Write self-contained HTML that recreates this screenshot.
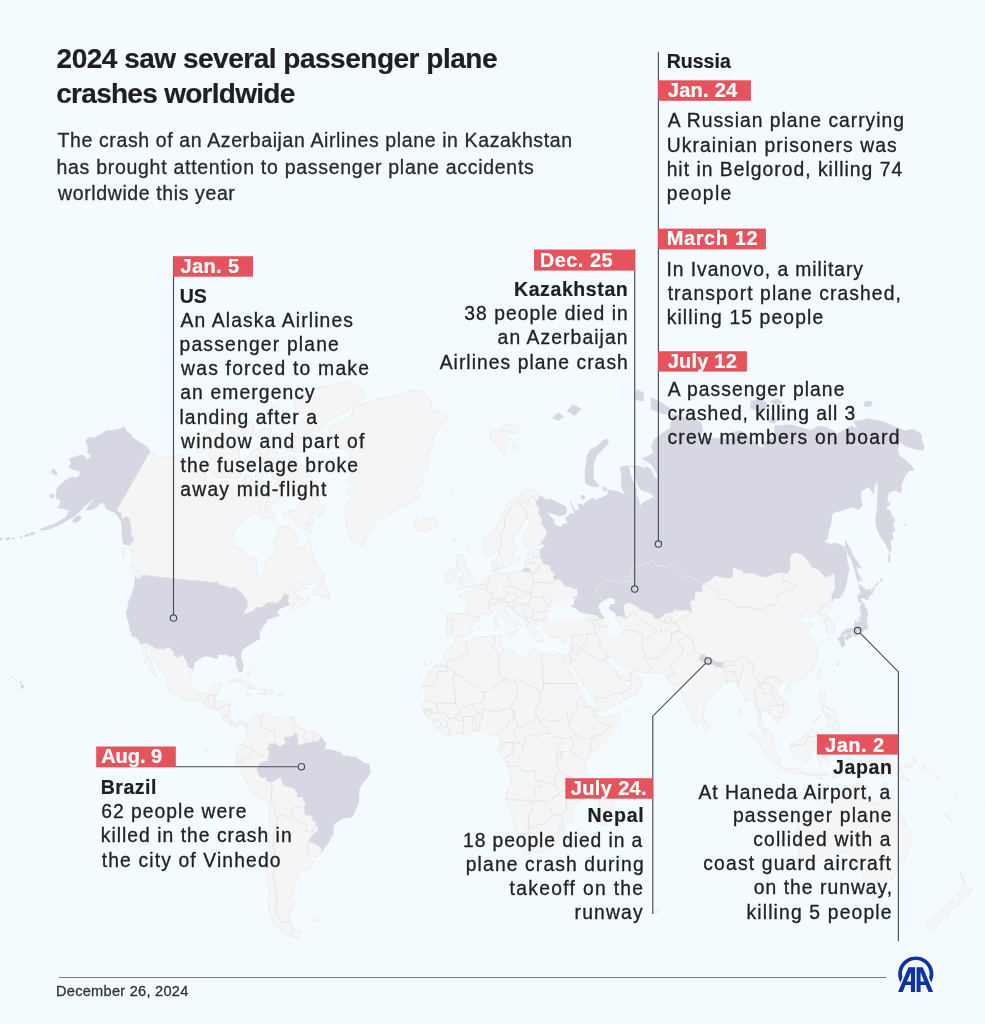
<!DOCTYPE html>
<html lang="en">
<head>
<meta charset="utf-8">
<title>2024 saw several passenger plane crashes worldwide</title>
<style>
html,body{margin:0;padding:0;background:#f4fbfe;}
body{width:985px;height:1024px;overflow:hidden;}
svg{display:block;}
text{font-family:"Liberation Sans",Arial,Helvetica,sans-serif;white-space:pre;}
</style>
</head>
<body>
<svg width="985" height="1024" viewBox="0 0 985 1024">
<rect width="985" height="1024" fill="#f4fbfe"/>
<g id="map">
<g fill="#f5f5f5" stroke="#e4e4e7" stroke-width="0.6" stroke-linejoin="round">
<path d="M150.0,451.1L146.6,446.2L141.5,443.6L136.9,440.3L133.1,438.0L130.5,433.9L126.7,431.5L124.4,426.8L118.6,429.4L112.3,430.4L106.2,430.9L100.7,434.5L93.9,438.0L89.5,437.4L85.5,440.5L86.9,443.7L88.1,448.2L87.5,452.3L90.3,454.1L90.3,458.3L86.6,459.6L84.2,455.9L81.9,455.1L76.8,456.4L69.1,459.0L71.1,462.9L69.2,467.2L71.9,469.2L76.4,470.2L80.7,471.5L79.3,475.7L75.8,478.2L72.9,476.9L68.4,478.7L64.3,481.3L57.8,487.0L56.0,493.8L56.9,499.0L60.9,499.6L59.7,504.5L58.4,508.2L63.1,507.9L66.0,510.0L70.2,510.2L65.9,517.1L61.9,520.0L54.3,524.1L47.4,526.4L39.5,529.8L44.3,530.1L49.3,528.7L56.1,526.3L61.6,523.7L68.5,519.5L74.3,516.3L79.5,511.6L82.5,508.4L87.8,503.7L90.8,501.0L95.6,499.5L90.9,503.1L86.0,509.9L91.2,509.7L96.5,507.6L100.2,503.2L104.5,502.9L105.3,507.0L108.1,509.9L112.9,511.5L116.5,513.9L119.5,518.2L121.6,522.8L122.0,529.4L122.1,535.7L122.8,540.8L123.7,544.2L127.6,544.8L130.1,544.9L130.0,547.3L131.0,550.6L131.8,554.4L132.5,558.6L131.8,563.0L134.1,565.3L137.3,568.2L139.1,571.3L140.5,573.8L141.3,575.3L140.7,579.4L138.9,579.0L135.1,577.4L134.8,583.9L134.1,587.2L133.1,590.5L131.0,596.9L128.5,601.7L127.9,607.4L126.2,611.9L126.8,616.5L128.1,620.6L128.9,623.1L130.0,626.1L129.4,628.6L131.9,633.0L131.7,635.7L135.1,637.0L137.0,637.7L137.4,638.9L140.0,641.4L140.2,643.7L140.9,646.3L141.9,650.0L142.6,652.9L145.6,655.9L145.9,659.4L143.4,660.8L145.0,663.3L148.0,664.7L150.3,666.9L150.0,670.6L151.8,672.7L154.9,675.8L155.8,677.9L157.1,676.2L155.2,673.5L154.3,671.4L152.8,667.3L151.6,663.8L149.7,660.6L149.1,657.4L146.7,654.1L146.0,649.8L146.3,646.5L150.5,648.9L151.0,652.5L152.1,656.8L154.9,660.6L155.7,662.9L158.0,665.0L158.4,668.5L162.0,671.6L165.7,676.7L167.5,678.8L168.5,683.1L167.0,686.3L168.7,689.6L172.7,693.2L177.5,694.8L182.7,697.9L186.6,699.7L192.3,701.7L197.3,700.1L200.2,700.7L204.4,705.2L206.4,707.0L210.7,707.9L215.0,709.5L217.9,710.4L220.3,712.8L222.5,715.9L222.4,718.6L224.3,720.4L225.8,720.4L228.3,723.4L230.6,725.1L232.3,724.6L234.6,726.1L236.3,727.6L238.9,727.0L238.1,724.3L239.9,723.4L242.0,722.6L244.2,724.9L245.0,727.6L246.1,729.7L246.3,734.1L246.6,737.7L243.9,741.2L242.1,744.1L238.6,746.4L238.3,748.5L236.3,751.7L236.0,755.5L238.9,756.1L237.5,758.7L234.9,762.3L235.6,765.8L239.2,769.3L242.9,775.3L245.1,779.2L247.8,784.5L250.2,789.7L251.8,792.2L256.1,795.2L261.2,798.2L265.4,800.7L268.6,803.7L269.7,811.8L269.6,821.3L269.7,827.8L268.7,834.3L268.8,840.9L269.7,847.7L269.8,852.8L268.2,859.8L267.3,865.1L266.8,868.7L268.1,875.2L268.0,879.6L267.6,883.3L268.1,887.8L269.5,890.8L269.0,896.7L267.7,902.7L269.5,910.7L271.9,918.9L275.0,925.1L279.0,928.2L284.0,932.2L287.2,934.6L293.1,936.8L297.9,938.2L299.1,934.3L302.1,932.3L295.0,929.2L291.3,924.7L291.5,923.0L288.7,917.7L289.3,913.9L291.3,910.5L294.5,904.7L293.5,901.2L288.7,897.6L293.5,893.5L293.6,887.8L294.9,885.5L296.8,883.2L293.0,882.2L292.3,877.8L298.0,878.7L299.9,876.5L299.1,870.7L302.5,871.0L307.9,869.7L311.7,867.2L313.3,861.6L311.5,858.5L307.8,855.5L307.5,853.5L309.4,855.0L314.1,856.4L317.5,856.5L320.1,854.9L321.5,852.3L324.7,847.1L327.0,844.8L329.2,840.8L330.6,837.5L333.5,834.6L333.1,830.1L333.2,826.6L334.7,823.7L339.1,820.5L343.5,818.3L347.8,817.4L351.2,817.2L353.9,814.2L355.7,809.0L357.0,806.8L358.5,802.0L358.9,797.4L358.7,792.3L360.0,787.0L364.2,781.0L367.9,777.0L370.2,772.5L370.3,769.5L368.9,764.0L363.3,762.8L359.5,759.6L355.1,756.9L350.8,757.2L346.4,755.8L342.9,756.7L342.0,754.0L337.6,751.7L333.3,750.5L330.4,749.7L326.0,749.4L324.5,747.9L326.0,743.5L323.1,740.0L321.4,736.5L318.8,734.5L314.5,731.8L308.7,731.5L304.3,730.3L301.5,728.3L297.8,724.7L294.9,723.5L294.4,720.9L290.1,718.8L291.9,717.3L288.7,717.3L285.8,717.9L282.8,719.1L279.4,717.6L274.1,717.8L273.3,716.7L269.6,714.8L268.8,712.7L267.9,714.5L265.5,716.3L264.2,718.7L262.5,717.5L263.8,715.4L265.3,713.3L263.7,712.0L262.1,713.6L258.3,715.4L254.5,716.0L252.4,717.8L252.0,720.5L249.8,722.6L248.3,725.3L246.6,723.3L242.6,720.9L239.4,721.2L236.2,722.7L232.7,721.6L230.5,719.2L228.6,716.2L228.7,713.2L229.6,708.6L230.4,704.0L227.1,701.5L223.4,701.1L219.9,701.5L216.1,701.8L214.4,701.1L216.5,696.2L218.4,693.7L219.4,688.9L221.7,685.8L221.4,683.4L217.0,683.5L212.6,684.7L211.3,685.7L210.1,690.1L206.6,692.6L203.1,693.2L198.7,693.9L196.0,692.2L193.6,689.6L191.5,684.7L190.5,679.8L191.6,673.3L193.8,668.5L193.4,665.6L194.4,662.6L198.6,659.6L202.4,657.0L207.4,655.9L211.6,656.9L215.1,658.3L218.0,658.4L217.2,655.7L218.5,654.3L222.0,654.4L226.3,654.2L229.4,656.7L232.7,655.6L234.5,656.8L236.4,659.5L235.9,663.6L237.0,666.6L237.9,669.2L239.6,672.0L241.6,671.9L242.5,670.3L243.2,666.7L242.3,661.0L240.8,656.6L241.0,653.6L242.7,649.2L245.8,647.2L248.4,645.2L252.4,642.9L256.8,640.2L259.9,638.4L259.6,635.0L259.4,632.4L258.5,631.1L259.4,627.5L259.4,624.2L260.4,626.5L259.9,631.5L261.7,629.0L262.9,626.6L262.6,623.6L264.0,625.3L266.4,622.7L267.1,619.8L267.9,618.7L271.5,618.7L273.3,618.0L271.8,617.2L274.9,616.8L277.2,616.5L279.0,615.9L279.2,614.6L276.9,613.5L277.8,611.3L280.3,608.4L284.8,606.4L289.3,604.7L292.2,603.7L295.8,602.3L292.4,605.6L290.9,607.8L292.5,609.7L298.7,606.3L305.9,603.9L309.7,601.0L308.7,597.3L305.5,601.6L302.2,601.8L298.3,600.5L296.7,597.3L296.7,594.2L294.3,592.4L299.2,591.1L299.2,588.3L293.8,588.0L287.9,590.5L282.7,595.8L279.3,596.3L281.6,594.5L285.9,590.8L291.3,587.0L295.2,583.6L302.8,583.9L309.4,584.5L315.0,583.2L319.6,580.1L324.8,578.4L325.0,575.5L322.7,571.1L319.2,568.4L316.1,564.3L313.8,560.1L313.3,553.3L311.1,546.1L309.9,539.3L306.7,542.9L303.0,547.3L297.9,548.7L295.7,545.2L296.3,539.9L295.9,534.9L293.2,531.1L289.1,527.5L284.1,526.9L278.8,525.8L277.9,530.4L276.4,537.8L273.2,543.4L275.9,547.5L274.6,553.1L271.3,557.4L264.6,561.4L265.3,565.1L264.4,571.6L262.0,575.8L258.0,576.3L256.7,571.9L256.2,566.5L257.5,558.9L250.1,556.7L244.8,551.9L239.3,547.9L234.1,547.3L235.2,539.9L231.2,538.3L234.4,530.9L239.5,524.2L245.4,519.0L253.7,514.1L259.4,512.7L260.8,508.9L265.7,506.1L266.2,501.5L268.6,501.9L274.4,503.4L280.8,497.8L280.4,494.1L283.4,489.6L284.2,484.6L280.1,482.6L275.9,483.8L271.1,492.5L267.1,496.2L264.7,492.6L261.8,487.6L263.1,482.0L260.2,480.1L263.9,474.7L264.7,467.8L261.5,464.1L255.2,472.1L255.6,479.1L249.8,484.6L247.0,492.5L247.1,486.7L244.7,483.6L240.1,488.0L234.0,487.4L229.0,484.3L227.0,480.5L221.1,481.9L219.8,485.7L216.1,489.6L216.7,485.7L214.6,481.9L209.3,482.0L202.6,479.8L206.3,477.8L205.2,472.6L199.8,470.5L195.5,466.4L190.2,464.2L188.7,459.9L184.1,463.3L183.9,457.0L181.8,453.9L176.8,455.7L170.8,456.7L165.6,456.4L160.9,457.4L156.2,458.4L154.1,453.3L150.0,451.1Z M72.6,520.4L73.9,523.1L79.4,520.5L81.3,517.2L79.8,515.6L75.3,517.2Z M51.1,471.3L53.7,474.5L57.1,474.7L56.3,471.3L52.8,469.0Z M49.3,494.9L51.5,498.3L53.9,496.1L52.5,494.0Z M138.7,577.8L135.4,576.5L133.0,573.4L130.1,568.7L128.8,565.1L131.9,565.0L136.2,569.0L138.4,573.6L138.9,576.2Z M123.6,558.4L122.2,551.5L122.3,546.9L125.7,548.3L123.7,552.7Z M312.1,595.0L315.1,591.6L313.0,591.5L317.0,587.3L320.6,581.8L324.8,579.6L323.1,583.2L320.3,586.7L323.9,586.1L327.6,588.2L328.4,591.8L329.1,595.8L329.8,596.2L328.3,599.4L325.9,598.5L325.8,596.0L321.9,598.1L321.3,595.4L317.0,595.2Z M299.8,585.3L303.4,587.8L306.7,588.7L304.9,586.6Z M297.7,597.7L299.8,599.8L304.0,599.2L301.3,598.9L299.0,596.6Z M227.5,682.5L230.4,679.8L234.9,678.4L239.2,678.7L243.3,680.6L248.8,683.0L253.0,685.2L257.9,688.0L256.1,688.9L247.7,689.1L249.4,686.8L245.7,685.5L243.1,683.2L238.8,681.9L236.0,681.0L232.5,682.1L230.1,682.7Z M256.8,693.9L259.9,693.1L261.7,691.9L260.1,689.4L262.8,689.1L267.1,689.3L270.2,690.1L274.3,693.1L271.1,693.8L268.2,694.3L265.4,696.1L263.8,694.5L259.5,694.5Z M245.5,693.9L248.0,693.3L251.4,694.6L249.6,695.4L247.0,695.2Z M277.7,693.7L282.2,694.1L281.4,695.1L277.6,695.3Z M291.8,719.1L294.4,719.1L294.7,717.0L292.5,717.3Z M247.3,674.9L249.0,675.6L249.0,672.4L247.6,672.3Z M249.6,667.1L251.7,668.5L251.6,667.5L249.4,666.5Z M310.1,919.6L313.7,917.3L319.0,918.3L316.3,921.3L312.3,921.2Z M20.8,685.9L21.6,684.1L23.6,685.6L24.2,686.8L21.7,688.7Z M19.5,681.8L21.4,682.2L20.5,682.9Z M15.3,679.3L16.8,679.9L15.6,680.2Z M11.2,677.2L12.4,677.1L11.9,678.0Z M204.8,750.2L206.3,749.7L206.9,751.4L205.4,751.7Z M259.3,516.6L262.2,519.2L268.2,516.8L273.8,519.2L276.7,516.9L274.4,513.8L271.7,510.5L269.7,505.6L265.7,506.1L264.7,512.3L260.4,513.4Z M311.2,533.5L307.1,531.6L304.0,529.2L297.3,525.9L293.0,519.0L290.2,515.9L283.8,516.2L283.4,512.2L294.4,510.9L297.4,505.6L301.6,500.4L299.0,494.0L294.3,490.1L291.5,484.6L286.1,483.0L279.5,481.1L272.4,477.7L271.0,472.6L273.3,466.0L279.2,457.7L288.4,455.9L296.6,458.4L296.0,464.9L301.8,465.3L305.8,466.8L307.6,474.1L312.2,477.6L313.8,483.1L316.9,485.5L318.1,491.3L312.9,496.0L317.0,498.4L321.3,504.2L326.5,508.8L323.5,513.4L318.7,517.2L315.8,514.2L310.2,512.4L313.5,519.8L313.4,524.6L308.8,525.6L306.3,522.7L309.3,528.3Z M205.7,464.6L207.7,470.3L210.8,471.8L218.0,477.8L227.4,477.1L235.4,478.9L241.3,474.7L240.5,468.8L237.4,465.1L239.9,455.8L239.1,448.4L232.5,449.0L225.2,444.4L216.4,444.4L210.3,450.1L208.1,455.9L212.5,459.5Z M195.9,446.2L197.0,452.7L201.2,452.3L209.0,448.0L222.3,441.0L222.6,434.5L215.6,430.0L208.3,429.4L205.4,435.7L197.2,441.0Z M228.4,427.7L233.2,435.6L245.4,435.8L251.0,436.5L254.2,429.4L251.2,421.0L243.2,422.2L236.3,417.9L230.0,423.5Z M243.9,462.2L250.6,463.8L257.4,462.4L262.0,453.6L259.0,448.0L253.1,449.7L248.3,456.4Z M260.8,463.2L265.2,464.2L273.2,460.1L278.1,452.8L272.4,449.8L266.3,452.3Z M242.4,480.4L247.0,484.1L251.9,481.7L251.9,476.3L247.0,475.9Z M277.8,446.3L283.4,449.3L293.9,451.7L302.6,452.8L305.9,445.6L298.3,438.0L289.6,435.0L282.9,436.7Z M255.4,435.2L262.4,439.8L269.6,437.5L271.5,428.2L262.1,428.2Z M289.6,435.0L298.6,437.3L308.4,440.4L314.9,436.0L321.4,426.9L328.5,421.2L337.4,415.6L348.0,410.1L358.0,403.0L366.2,394.9L359.5,386.1L347.4,381.4L331.8,385.4L321.0,386.9L312.8,390.2L314.3,401.0L310.3,411.5L300.8,420.6L292.4,427.7Z M294.3,402.3L295.5,409.1L301.4,413.9L309.1,408.0L309.4,400.6L308.1,391.0L300.7,394.3Z M265.3,415.7L275.4,418.0L280.2,410.4L274.5,405.4L267.7,410.4Z M220.7,417.3L229.1,421.3L238.4,416.6L237.4,408.0L225.2,412.9Z M361.3,545.9L357.7,543.6L351.9,540.9L349.2,535.4L347.9,529.8L346.0,523.6L345.8,517.3L345.0,509.6L346.9,503.1L354.1,498.1L346.8,494.4L348.5,488.5L354.2,488.5L348.3,480.9L350.7,472.7L349.6,462.1L350.1,454.1L344.2,449.2L334.8,448.3L329.2,443.2L330.5,435.1L329.5,427.9L341.4,422.3L351.7,415.0L352.8,408.1L364.4,403.4L377.4,398.5L393.8,397.1L409.3,390.4L422.2,390.9L431.6,401.9L432.0,410.2L443.8,412.9L448.6,418.0L438.7,428.4L434.0,436.7L431.7,448.5L426.9,455.8L430.1,463.1L427.3,469.8L421.3,476.1L422.5,484.3L416.5,488.3L421.3,495.1L413.9,499.9L407.4,505.7L399.1,506.9L392.4,512.4L385.6,517.8L376.9,519.3L373.2,526.7L368.4,532.8L366.0,539.4L363.4,544.4Z M416.1,529.7L413.5,524.6L418.3,523.8L413.1,520.8L416.6,516.8L420.2,521.6L423.5,518.9L428.3,518.6L432.7,516.9L436.3,519.5L438.3,524.6L434.8,528.0L429.8,530.4L424.8,532.2L421.3,531.1Z M35.1,533.2L34.8,532.3L33.0,532.2L30.8,532.9L29.5,534.1L29.9,534.9L31.7,535.0L33.9,534.3Z M29.5,534.9L29.1,534.2L27.5,534.1L25.6,534.7L24.5,535.7L24.8,536.5L26.4,536.6L28.3,535.9Z M22.1,536.8L22.0,536.4L21.3,536.4L20.4,536.7L20.0,537.1L20.1,537.5L20.8,537.5L21.6,537.2Z M14.6,538.3L14.5,538.0L13.7,537.9L12.7,538.2L12.2,538.8L12.3,539.1L13.1,539.2L14.1,538.8Z M10.3,538.3L10.0,537.5L8.4,537.5L6.4,538.1L5.3,539.1L5.7,539.9L7.3,540.0L9.2,539.3Z M2.8,538.9L2.5,538.4L1.3,538.3L-0.1,538.8L-1.0,539.6L-0.7,540.1L0.5,540.2L1.9,539.7Z M-1.3,538.6L-1.5,538.2L-2.4,538.2L-3.5,538.5L-4.1,539.1L-3.9,539.5L-3.0,539.6L-1.9,539.2Z M-5.8,540.0L-6.0,539.6L-6.8,539.6L-7.8,539.9L-8.3,540.4L-8.1,540.8L-7.3,540.8L-6.4,540.5Z M-10.2,538.7L-10.4,538.3L-11.4,538.2L-12.6,538.6L-13.4,539.3L-13.1,539.7L-12.1,539.8L-10.9,539.4Z M-13.4,535.4L-13.6,535.0L-14.4,535.0L-15.4,535.3L-15.9,535.9L-15.8,536.2L-15.0,536.3L-14.0,536.0Z M-22.3,527.4L-22.5,526.9L-23.5,526.9L-24.7,527.3L-25.5,528.0L-25.3,528.5L-24.3,528.5L-23.1,528.1Z M540.0,496.9L536.8,495.4L539.9,493.4L534.9,490.8L531.4,489.8L527.6,489.8L523.8,491.5L519.8,495.3L516.7,497.7L513.4,499.0L510.3,502.0L506.0,504.4L508.5,506.5L505.2,509.3L503.9,513.1L501.2,517.9L500.3,522.0L497.5,525.6L494.8,529.6L492.5,532.1L489.0,534.5L485.5,536.9L483.1,539.8L483.2,543.9L483.5,546.6L484.2,551.5L485.0,553.3L487.4,556.8L489.9,557.2L492.4,555.8L495.3,552.7L497.4,550.5L497.6,548.7L498.5,552.2L499.2,555.3L500.8,558.3L502.9,563.4L503.5,565.5L504.4,568.0L507.5,567.9L507.9,565.4L511.4,564.7L512.8,562.3L513.2,557.6L513.7,553.7L516.2,550.9L518.0,547.7L513.7,544.7L513.1,540.1L513.5,536.8L515.7,533.9L519.7,529.8L521.7,525.3L521.8,522.3L523.3,520.7L527.7,519.5L531.3,523.4L529.6,527.0L526.2,529.6L523.0,533.1L523.0,538.4L523.9,542.5L523.7,544.8L526.0,545.7L528.2,548.1L533.1,546.5L537.9,545.0L539.8,544.4L542.0,543.6L546.2,546.9L543.2,547.3L540.9,549.2L535.9,549.1L532.7,549.7L529.8,550.9L530.1,553.6L532.7,554.6L532.5,557.9L532.3,560.3L529.5,560.2L528.2,558.0L525.7,558.6L524.6,562.9L525.1,566.2L523.9,569.4L522.4,570.7L521.2,571.9L519.4,571.8L518.5,570.4L514.9,570.8L512.5,572.5L508.1,574.0L505.9,571.6L502.4,573.1L499.6,573.8L496.9,572.0L496.6,570.4L495.7,567.7L497.3,564.7L498.8,563.7L497.2,561.4L497.7,558.4L495.1,560.5L491.8,561.4L491.7,565.6L491.8,567.5L493.2,569.8L493.6,573.0L494.1,574.3L493.2,575.7L489.3,575.5L486.7,576.1L484.1,577.2L483.3,578.4L482.4,581.5L480.3,584.3L477.7,585.7L475.4,586.3L475.4,589.0L471.7,591.6L468.0,592.2L467.7,590.9L466.1,590.9L466.9,594.9L463.2,594.3L458.7,595.4L459.5,597.7L463.2,599.0L465.3,600.1L468.0,603.9L468.3,606.5L467.8,610.1L466.9,613.8L461.0,613.8L455.5,613.3L449.6,612.7L446.2,614.8L447.3,618.9L447.5,622.0L446.6,626.5L445.1,630.1L447.0,631.3L446.7,636.0L449.4,636.0L452.0,635.3L453.9,637.3L455.8,639.3L456.6,638.8L459.2,637.0L465.3,636.9L469.4,634.0L471.9,630.1L470.5,627.6L473.3,623.1L477.4,621.0L480.1,618.9L479.8,617.2L479.5,614.7L482.2,613.6L485.7,614.3L489.3,614.7L491.4,612.7L495.4,610.3L498.7,612.1L499.9,615.6L503.6,618.4L505.9,620.7L510.1,622.9L512.6,625.0L514.4,625.6L515.8,629.0L514.7,632.5L516.0,632.6L518.6,629.4L516.8,626.6L517.8,623.9L520.9,625.9L522.3,625.2L520.8,623.3L515.1,619.0L512.6,619.0L510.1,617.0L508.0,613.1L504.9,611.0L504.5,607.4L508.3,605.7L507.8,608.1L508.9,608.8L510.2,606.9L512.5,611.2L515.9,613.4L519.0,615.4L521.8,617.2L524.4,618.9L524.7,621.0L524.4,623.8L526.5,626.5L528.6,629.2L529.8,631.3L530.5,633.3L531.7,636.3L533.8,637.5L536.0,637.4L534.7,633.9L535.1,632.6L538.0,633.4L537.9,631.5L535.0,629.5L534.6,627.8L533.6,625.4L534.3,623.3L535.8,624.7L537.5,625.3L538.5,624.8L537.3,622.9L538.3,622.0L542.5,622.3L542.8,623.2L543.5,625.1L543.5,625.4L543.4,627.0L545.7,628.7L544.2,631.1L546.8,633.1L547.3,635.4L549.9,636.4L552.4,636.7L553.9,638.2L556.6,636.7L559.1,636.5L562.0,638.3L566.1,637.5L567.7,635.8L570.5,636.4L572.2,636.4L571.6,638.8L571.5,641.1L571.9,643.5L571.0,645.5L570.1,648.1L569.7,649.1L569.3,651.6L568.7,653.4L567.9,654.0L566.3,654.7L562.6,654.3L558.9,653.3L556.1,654.2L553.3,655.7L548.2,654.1L542.5,653.5L539.0,652.1L536.4,650.2L533.3,649.2L528.0,651.9L527.9,655.4L526.6,657.3L523.7,657.5L519.4,655.5L514.8,652.9L514.2,651.0L508.5,649.4L504.0,648.8L502.0,647.2L499.7,645.9L501.3,643.6L502.1,640.9L500.9,638.3L502.1,635.7L500.0,636.4L498.6,634.9L495.3,636.1L493.1,636.3L489.4,635.8L485.6,636.8L480.0,636.7L474.2,637.9L469.7,640.3L465.8,642.3L463.2,641.7L460.5,642.0L456.6,639.7L455.0,640.0L453.8,643.3L452.2,645.9L450.1,647.2L447.3,648.5L445.3,650.8L443.8,654.0L444.4,657.5L442.6,661.0L438.9,664.2L434.9,665.3L433.1,668.2L430.2,670.7L426.1,678.1L422.6,686.7L424.1,691.3L425.4,695.5L423.9,701.8L421.0,705.5L422.9,708.3L422.9,710.7L423.2,712.8L425.8,714.2L428.1,717.2L431.8,721.0L433.2,724.0L435.3,727.2L438.5,728.9L440.2,730.4L445.4,734.2L449.8,736.1L454.2,734.5L460.0,733.5L465.8,734.9L471.6,732.5L475.1,731.0L478.6,730.3L481.5,730.1L484.7,730.7L486.2,732.7L489.1,736.2L492.0,736.0L495.8,735.7L497.5,735.7L499.9,737.1L500.2,740.0L499.6,743.0L499.3,745.9L498.7,747.6L497.2,750.8L499.3,754.6L502.2,758.4L506.0,762.8L507.1,765.7L507.4,766.6L509.4,770.7L510.0,774.5L511.7,780.1L510.4,785.1L507.8,788.3L506.6,793.4L505.6,799.5L507.6,804.2L510.0,810.2L513.1,816.7L513.0,821.6L514.5,828.1L518.3,834.4L520.4,839.9L523.0,845.0L522.0,847.9L523.0,851.5L523.2,853.0L527.3,854.5L533.3,852.3L538.7,852.3L543.2,851.9L549.8,848.8L554.6,844.3L559.2,838.7L563.1,835.1L565.1,829.4L564.5,826.4L567.2,824.1L572.5,821.3L573.4,814.5L572.1,810.8L571.7,807.6L575.3,804.7L578.3,801.4L584.2,798.1L588.7,793.6L589.3,787.0L589.2,779.6L587.3,775.1L586.5,771.6L585.9,768.7L584.5,766.3L585.4,763.4L587.2,760.6L588.7,757.2L591.0,754.3L592.8,753.6L595.7,749.7L599.8,745.9L603.7,742.8L608.5,738.0L612.8,732.7L615.0,728.3L617.0,724.5L619.2,720.9L620.1,718.2L620.4,714.1L618.1,713.8L613.8,715.6L609.5,716.2L605.1,717.1L602.3,718.3L599.3,718.0L597.2,715.3L597.2,713.5L596.5,711.4L594.4,709.7L591.7,706.7L588.8,704.6L585.8,702.8L584.2,699.2L582.6,695.6L579.3,692.5L578.6,690.7L578.2,686.4L577.4,683.4L573.7,678.7L570.3,673.5L568.3,669.1L567.0,665.3L564.8,661.8L563.6,658.5L564.1,659.9L565.7,662.8L568.7,665.4L569.7,663.0L570.5,659.7L570.2,662.7L571.5,664.6L575.6,670.9L578.1,675.0L580.5,677.0L584.0,684.9L587.5,690.0L591.3,695.5L594.7,700.3L595.7,704.9L597.1,709.6L597.7,711.4L602.0,711.1L606.3,709.3L610.6,707.5L613.7,706.0L617.7,704.5L622.5,702.6L622.5,700.8L626.4,699.1L627.8,698.4L631.2,697.1L634.3,695.4L637.9,692.2L637.9,688.5L640.4,687.5L643.1,681.2L639.4,677.6L634.6,675.6L632.5,672.5L632.4,669.1L631.3,670.4L629.5,672.5L627.1,675.3L622.0,676.1L619.2,676.5L617.9,674.9L616.7,674.4L618.9,672.7L617.7,670.0L616.6,672.1L614.8,671.8L614.6,669.5L612.7,667.3L609.6,664.2L608.9,662.4L607.5,659.8L607.1,657.9L609.1,657.8L610.1,656.4L613.3,657.3L615.8,661.0L617.9,664.5L621.2,665.9L625.4,668.4L629.7,667.7L631.8,666.6L634.0,668.0L635.1,671.0L640.1,672.1L644.7,672.3L647.6,672.8L649.6,672.7L655.9,672.5L661.6,671.8L662.3,673.5L664.9,676.5L667.0,677.1L669.4,681.6L672.9,685.9L675.8,686.5L678.9,684.9L679.8,681.7L680.4,685.2L681.5,691.8L683.4,698.0L685.1,702.9L688.5,710.5L691.6,715.5L693.1,719.4L695.3,723.7L697.1,725.0L698.9,722.8L701.5,721.3L703.7,718.3L703.2,713.5L704.4,709.8L703.5,704.0L705.6,701.5L709.5,699.0L712.2,695.6L716.7,690.5L720.7,687.6L721.8,683.7L724.9,682.7L727.5,682.4L731.6,680.7L735.4,680.6L737.3,685.8L739.6,688.3L743.9,694.3L744.4,700.6L747.4,701.2L749.8,699.0L752.6,697.7L754.5,703.7L756.3,708.3L757.8,712.9L758.1,719.1L757.5,725.1L761.1,728.4L763.6,732.9L765.1,737.6L766.9,740.3L769.6,742.6L773.1,745.0L775.1,744.8L774.8,741.5L773.0,738.5L772.6,735.6L771.7,732.9L769.0,730.5L765.5,728.4L764.3,727.5L762.4,723.6L762.1,720.6L760.1,717.5L761.3,712.9L761.6,708.9L763.0,708.3L764.6,710.8L768.5,712.3L770.3,714.1L772.3,717.2L775.2,717.8L776.3,723.3L778.3,722.0L781.6,718.1L782.8,717.7L785.3,716.8L788.6,713.1L788.7,710.0L788.0,705.0L786.7,702.5L784.7,699.9L781.3,697.1L779.3,694.6L776.9,690.7L777.2,687.8L779.3,685.1L782.4,682.4L784.1,682.1L785.6,682.4L787.5,684.0L788.1,686.3L789.6,686.4L790.2,684.3L789.8,683.0L793.4,681.9L796.7,680.5L798.4,679.8L800.1,679.4L803.6,677.8L806.9,675.9L810.4,671.9L813.3,668.1L813.9,666.0L815.3,662.1L816.6,659.2L818.0,655.5L818.3,652.2L815.3,650.1L817.7,648.5L817.3,646.3L814.0,642.7L810.9,637.2L807.4,634.3L807.8,631.9L809.2,629.3L812.0,626.2L814.6,625.2L814.6,623.6L811.0,623.3L807.1,623.7L804.5,624.7L803.6,621.9L799.8,619.4L799.2,617.8L802.4,617.2L803.7,614.2L806.8,610.3L809.2,609.6L810.4,611.2L808.9,616.7L810.3,617.8L813.0,614.8L817.0,613.2L819.3,614.7L821.1,618.3L820.1,620.4L822.5,621.9L825.5,622.5L826.1,626.5L827.3,630.4L827.4,633.6L830.9,633.8L834.8,631.6L835.1,628.0L834.2,624.0L830.8,619.3L826.6,615.0L826.3,613.0L828.4,610.7L831.1,607.9L830.3,604.1L832.1,601.7L834.6,598.0L838.1,599.0L842.4,594.1L844.9,588.3L846.9,580.9L847.6,574.5L849.2,569.3L847.0,560.9L846.2,552.0L843.9,546.9L839.2,544.4L834.3,543.0L830.8,544.7L824.5,541.8L827.7,538.5L828.4,530.9L831.1,522.7L831.8,515.1L833.9,512.5L840.4,510.8L847.8,508.5L852.7,507.0L858.7,509.3L862.3,505.2L860.8,498.7L860.9,490.9L865.9,488.2L868.8,486.7L873.5,494.1L874.1,487.5L877.4,479.8L878.2,487.1L878.0,494.4L877.2,503.7L877.1,511.7L875.3,518.0L876.2,524.7L877.7,530.5L881.9,538.7L885.6,543.9L890.1,552.4L891.0,548.7L890.5,540.7L893.8,538.3L891.6,533.9L895.1,529.6L892.5,524.5L895.0,520.2L891.6,515.1L889.8,510.2L886.8,509.5L886.8,502.7L887.6,496.2L889.1,492.2L894.3,490.1L901.0,492.7L901.2,484.5L904.2,477.5L908.7,470.5L913.7,470.6L911.4,465.6L904.4,459.4L898.7,455.2L897.7,449.4L899.4,441.5L905.3,445.8L913.1,448.5L922.7,450.5L924.0,447.3L921.6,439.8L921.5,434.3L914.3,430.0L910.9,429.4L904.7,430.9L893.8,426.3L884.5,422.0L876.0,420.4L867.4,418.8L860.3,420.8L853.7,421.5L858.5,429.5L851.7,426.3L844.6,430.0L837.4,433.7L826.8,427.2L819.1,426.3L811.0,430.4L802.3,428.0L790.3,424.8L781.1,425.4L774.7,425.8L774.9,431.5L775.3,437.8L768.3,439.3L764.9,442.2L763.3,447.8L760.2,447.1L753.3,440.7L746.2,434.2L739.9,430.8L733.1,432.2L735.6,437.7L727.6,439.4L715.2,438.0L710.1,437.9L704.4,438.8L703.0,442.6L699.4,447.0L699.3,438.6L702.7,430.3L701.1,422.4L692.8,417.4L684.3,417.3L673.2,413.9L671.1,422.6L670.1,428.6L664.0,432.2L658.2,436.4L654.9,439.0L651.5,445.7L653.4,453.2L647.4,456.5L642.4,458.4L647.1,468.7L641.8,467.7L638.8,466.1L632.8,465.9L627.7,466.1L621.4,466.6L620.5,470.2L621.8,476.8L621.2,484.8L622.4,489.6L626.0,495.2L621.8,493.4L618.9,492.0L608.6,489.8L607.8,494.7L605.6,495.6L601.5,497.9L597.1,499.0L595.1,500.4L593.1,497.8L588.0,500.7L583.2,505.2L578.1,504.0L579.5,510.0L574.8,510.4L572.9,507.3L570.5,501.6L573.5,510.0L574.5,514.2L570.7,513.5L565.6,518.1L567.9,523.4L562.0,524.6L562.7,527.1L558.7,526.8L554.7,524.6L553.3,519.5L548.1,514.1L546.2,511.6L552.8,513.8L560.4,515.9L566.0,513.9L566.7,509.5L565.6,506.3L562.4,504.9L557.8,503.0L551.3,499.5L545.8,499.7L542.8,496.7L540.0,496.9Z M456.1,589.5L461.5,589.0L465.9,587.4L468.5,586.9L471.9,586.9L474.8,585.3L474.8,584.3L473.0,583.9L474.5,582.0L475.7,580.0L474.5,578.2L471.9,578.4L472.0,577.6L471.3,575.6L470.8,573.6L468.0,571.6L466.9,567.5L465.9,566.6L462.6,565.8L464.4,564.5L465.7,561.6L466.4,559.5L462.6,558.6L460.9,559.0L463.4,554.7L458.4,554.7L456.3,559.9L456.7,563.7L455.2,562.8L457.0,565.8L456.1,568.7L458.5,567.0L458.2,570.3L459.7,571.2L462.0,570.3L461.8,572.0L463.6,573.6L463.3,576.4L459.1,576.8L460.4,578.4L458.7,578.8L460.5,580.0L457.2,582.4L460.6,583.6L464.1,583.8L462.7,585.1L460.4,585.1L459.2,586.1Z M452.0,568.3L455.2,569.0L456.4,571.4L456.9,572.6L455.0,574.0L455.2,576.6L454.5,581.3L449.4,582.7L445.4,584.1L443.9,581.5L445.3,579.7L447.7,577.2L444.6,576.3L444.9,573.9L445.2,572.7L448.8,572.7L449.7,569.3Z M505.9,633.2L508.3,631.8L514.6,631.6L513.3,634.2L513.5,636.8L510.8,635.7Z M493.8,622.7L496.6,621.5L498.3,624.0L497.9,628.5L496.5,628.5L494.8,629.5L494.6,626.1Z M496.9,615.3L497.4,618.5L496.5,620.9L494.8,618.9L494.8,617.4Z M537.0,640.6L538.9,640.4L541.8,641.1L544.9,641.2L544.7,642.2L540.5,642.4L537.2,641.4Z M561.7,641.8L563.6,640.8L568.0,639.5L566.6,642.0L563.8,643.2L562.1,642.8Z M478.0,627.2L479.9,626.0L481.0,626.9L479.6,628.2Z M499.5,566.8L501.7,565.1L503.3,566.7L502.5,569.6L499.8,568.9Z M496.2,567.7L498.5,567.6L498.6,569.5L496.8,569.3Z M517.0,560.5L518.7,557.0L519.7,556.8L518.7,559.6Z M526.2,555.1L527.6,553.7L529.6,554.1L528.5,555.9Z M490.0,438.8L491.1,431.2L495.6,430.2L499.1,428.2L503.0,429.7L506.7,436.3L511.0,439.3L506.6,442.8L506.4,448.3L504.2,455.2L500.9,452.4L497.0,447.2L496.0,443.4L492.0,441.2Z M502.6,427.1L506.8,424.1L513.3,424.5L519.1,425.8L517.4,432.1L511.0,433.4L505.1,431.3Z M511.9,447.9L513.4,442.3L517.8,445.2L515.4,449.2Z M585.6,483.4L585.4,478.9L585.0,470.3L586.7,461.6L587.1,456.4L590.2,449.8L597.5,446.2L602.0,441.2L607.5,438.9L608.3,443.2L603.1,449.1L596.7,455.6L593.7,462.7L593.2,471.2L593.1,477.9L599.1,486.1L593.5,486.8L589.6,485.4Z M651.0,409.1L651.4,398.1L661.1,402.4L670.2,408.9L665.9,414.5L656.9,411.3Z M634.7,399.4L636.6,389.4L643.4,392.9L643.3,400.9Z M750.2,408.0L751.1,401.1L760.2,399.4L766.6,402.2L766.0,407.9L760.3,412.4Z M770.2,401.7L777.1,398.7L782.6,401.9L776.6,404.5Z M769.2,422.1L771.4,416.2L777.1,420.0L774.1,423.2Z M864.2,406.3L865.6,401.2L871.9,401.7L871.2,405.9Z M552.5,417.7L558.4,412.7L563.6,416.7L558.2,420.5Z M567.2,411.0L573.1,404.6L580.9,409.1L574.8,415.5Z M580.9,497.9L582.4,494.8L585.3,496.9L583.4,499.4Z M602.7,489.9L603.6,486.7L607.1,488.7L606.2,491.3Z M858.8,582.5L859.0,578.5L862.5,581.3L859.4,575.5L857.4,573.3L856.2,566.4L861.9,568.4L855.7,559.7L852.7,554.8L849.8,548.2L847.3,544.2L845.0,540.0L845.9,544.9L845.0,546.2L846.8,551.4L848.3,554.4L851.7,560.3L853.9,567.2L855.5,572.5L856.9,578.3Z M871.6,591.1L873.4,587.5L874.7,587.9L872.6,591.4Z M874.5,586.5L877.5,582.2L878.7,582.6L875.9,586.3Z M879.9,580.9L881.9,578.2L882.8,579.1L880.6,581.4Z M888.2,561.3L888.9,555.7L889.2,553.5L890.1,555.0L889.7,561.6Z M903.5,523.5L905.9,524.9L907.0,525.9L904.6,524.5Z M887.2,504.7L887.7,501.8L890.0,503.3L888.9,506.3Z M861.8,602.6L863.5,602.9L864.7,606.8L867.2,610.6L867.5,616.2L865.9,616.7L867.0,621.7L866.7,624.7L867.9,626.9L867.1,629.2L865.8,630.5L865.2,627.7L864.8,629.3L863.5,629.6L863.3,631.9L861.9,630.1L861.4,632.0L858.0,632.2L857.2,630.6L858.0,633.4L856.6,635.1L855.4,636.9L853.2,635.3L853.0,633.9L853.4,632.3L851.3,632.0L849.2,633.1L845.3,634.1L843.7,635.6L841.1,635.8L841.0,634.0L843.5,631.9L845.9,629.3L849.2,628.9L852.2,628.1L854.3,628.2L854.0,626.0L855.0,623.0L854.6,620.9L856.3,620.4L855.7,622.1L856.5,623.3L859.1,621.5L860.6,618.2L861.7,614.0L860.3,609.6L860.4,606.8L860.5,604.1L862.2,605.5L863.0,603.9Z M859.7,603.3L858.0,599.4L857.9,594.6L860.9,595.0L860.7,591.5L858.8,584.9L859.3,584.2L863.5,588.1L868.0,590.5L870.4,588.6L870.8,592.1L873.1,593.0L869.7,595.2L867.9,600.1L862.4,597.6L861.1,599.1L858.9,598.4L860.6,600.5L862.2,601.2L860.9,601.6Z M841.2,636.0L843.8,637.0L844.7,639.3L844.8,645.5L843.8,646.1L842.7,647.1L841.2,646.2L840.6,643.0L839.1,640.5L837.8,638.3L840.0,637.2Z M844.8,637.9L847.0,635.0L849.9,633.7L851.5,634.2L852.1,635.7L851.1,638.0L849.1,637.1L848.1,640.2L846.5,639.4Z M837.1,665.3L838.6,662.6L838.0,664.9Z M858.1,618.2L858.7,616.8L859.3,618.7Z M819.5,680.4L816.8,676.7L816.9,675.0L818.5,669.7L819.9,668.7L821.4,669.7L820.7,673.2L820.1,677.3Z M785.0,689.6L786.8,687.5L790.2,686.9L791.8,688.5L790.6,691.2L787.9,693.2L785.5,692.2Z M828.1,639.0L829.2,638.0L830.3,638.3L829.5,639.3Z M704.6,719.8L707.7,723.7L709.8,727.3L709.3,729.7L707.3,730.9L705.0,731.2L703.9,728.5L703.5,725.2L703.8,722.5Z M614.6,784.1L617.7,794.3L615.4,798.8L614.1,801.9L612.0,808.3L608.9,815.7L606.1,823.6L600.5,825.6L597.3,823.1L596.7,818.5L595.8,814.3L599.0,809.1L598.4,803.6L599.9,796.6L605.5,795.1L609.9,791.8L611.5,788.6L613.4,785.6Z M626.1,711.8L628.1,711.4L629.6,711.8L627.6,712.6Z M749.0,732.5L755.4,733.5L759.0,737.6L763.7,741.2L767.8,743.8L771.6,746.4L774.0,749.7L776.0,754.0L780.3,757.6L779.9,762.0L779.5,766.0L777.8,765.9L775.2,763.5L769.3,759.9L763.9,751.6L759.4,743.7L751.4,736.6Z M777.7,768.9L780.1,766.2L782.4,766.8L787.6,768.7L792.8,769.4L794.6,767.7L799.2,769.2L799.6,770.1L804.5,771.8L804.3,774.4L800.2,773.6L794.4,773.3L788.7,771.8L784.9,771.6L781.1,770.7Z M804.6,773.2L808.1,773.5L811.0,773.8L809.7,775.3L806.6,775.0Z M811.3,773.8L816.2,773.5L820.6,773.8L824.9,774.1L829.3,773.5L828.7,774.8L823.4,775.4L817.6,774.9L811.8,775.6Z M830.5,779.7L833.6,776.3L838.0,774.5L841.8,773.9L839.4,775.7L834.9,778.5Z M817.5,777.2L821.3,776.9L822.7,779.1L819.5,778.7Z M790.0,748.8L788.8,745.3L790.8,742.9L792.9,743.8L796.0,740.9L800.7,739.4L803.5,735.5L806.4,734.0L809.5,731.0L811.6,728.2L814.1,729.8L815.3,731.5L818.7,733.4L816.9,735.5L814.1,738.5L814.7,742.9L818.2,746.0L814.2,747.9L813.9,750.2L810.9,754.0L810.3,757.6L809.4,760.3L805.3,760.8L800.7,758.5L797.2,758.5L792.5,757.3L792.3,753.8L789.7,750.8Z M820.6,747.3L823.8,745.0L828.4,745.9L832.8,746.2L836.3,744.0L834.2,747.6L829.9,747.5L824.1,747.6L821.7,748.8L821.4,751.4L825.5,751.4L831.0,751.4L828.4,753.5L825.5,754.6L827.5,758.5L830.3,762.1L829.9,765.1L826.8,762.9L825.4,760.6L823.7,756.7L822.2,757.0L821.9,762.0L822.1,765.3L819.5,765.0L819.3,760.6L817.6,757.0L819.1,753.2L820.6,750.2Z M843.0,742.9L844.4,742.3L846.5,744.4L846.5,747.3L844.4,750.8L843.9,746.4Z M844.4,757.9L850.2,757.3L852.5,759.4L848.7,759.1L844.9,759.1Z M838.5,758.2L841.5,758.2L841.7,759.7L839.1,760.0Z M853.2,751.1L857.5,749.8L861.9,751.1L862.8,755.5L866.2,758.5L870.6,754.6L873.6,753.5L881.4,756.4L886.6,758.2L892.4,760.0L896.1,764.2L899.5,766.7L901.7,768.8L899.4,769.0L902.2,772.8L906.3,777.6L910.2,781.1L906.1,780.1L899.6,777.5L896.3,773.1L892.0,771.6L889.0,773.7L886.0,776.5L881.6,776.2L877.4,773.1L873.0,774.0L875.5,769.7L873.3,765.1L867.6,762.1L863.3,760.3L858.9,760.9L856.0,757.3L860.4,756.1L856.6,754.6L853.2,752.9Z M903.3,765.2L908.3,763.6L912.7,761.2L915.1,761.5L914.1,764.6L909.7,767.3L905.3,767.0Z M910.8,756.4L914.3,758.5L917.1,762.1L916.2,762.4L912.8,758.5Z M921.7,764.9L924.5,767.3L925.3,769.2L923.3,768.3Z M927.1,768.9L929.9,770.8L929.3,771.4Z M935.7,777.1L939.1,778.7L937.7,779.0Z M938.8,774.2L940.7,777.4L939.8,777.7Z M945.2,814.0L949.2,817.0L952.9,821.9L950.9,821.9L946.3,817.0Z M954.7,796.0L956.3,798.1L955.1,798.4Z M985.0,805.2L988.8,804.9L988.2,807.8L985.0,807.3Z M820.0,691.7L824.6,691.7L826.0,696.6L823.7,700.2L824.4,705.3L827.4,705.9L831.4,709.4L831.8,710.8L829.4,709.4L826.9,707.5L822.5,707.2L821.2,705.0L819.2,701.5L818.3,698.6L820.0,697.9L819.7,695.0Z M820.8,708.2L823.5,708.2L824.3,711.3L822.8,712.0Z M812.4,723.8L816.1,720.4L818.8,716.7L819.2,714.8L818.2,717.0L815.3,721.9Z M825.5,712.9L829.1,714.1L827.8,717.2L825.9,717.2Z M827.3,719.1L828.9,715.8L831.9,714.9L830.8,718.8L829.8,721.6Z M832.4,711.0L835.3,710.9L837.0,715.6L835.5,718.4L834.3,718.5L832.9,714.4Z M836.4,719.4L839.2,723.4L839.7,728.0L838.9,730.1L836.9,732.2L837.1,728.0L835.4,731.3L832.5,729.8L832.3,726.5L830.3,726.5L826.6,728.3L827.0,724.9L830.7,723.1L833.1,723.4L834.5,721.9Z M885.7,781.2L888.2,787.0L889.2,793.2L892.8,795.1L893.6,801.6L894.6,807.0L895.7,809.6L899.6,812.3L901.9,816.4L905.9,821.3L905.4,824.6L906.6,826.4L910.5,831.6L910.4,835.9L910.9,839.7L910.4,844.5L907.8,850.9L904.2,859.2L901.8,861.1L899.5,864.9L896.9,869.9L892.4,878.1L892.1,879.8L886.0,881.1L882.6,883.0L880.1,886.0L878.2,883.5L877.2,880.4L876.2,882.1L872.2,884.1L867.4,881.6L865.1,880.1L863.4,875.6L863.6,871.0L860.2,869.6L862.1,866.4L861.5,864.0L859.5,867.5L857.4,868.0L859.9,863.1L862.0,857.2L858.7,861.8L854.7,865.8L852.9,864.7L851.5,857.8L850.4,855.3L843.7,852.4L837.4,852.9L828.4,854.8L822.2,857.1L820.4,860.5L815.5,860.0L810.1,860.2L803.2,864.0L798.0,862.8L795.9,861.0L796.1,857.9L798.1,857.1L799.3,852.3L798.3,846.0L798.1,840.5L797.6,836.0L795.3,831.2L797.8,829.0L796.8,825.5L798.1,822.1L798.9,818.1L800.2,816.4L801.2,818.1L802.9,816.0L807.9,812.7L813.6,811.7L817.8,810.4L822.4,807.5L824.8,804.1L827.3,799.0L829.1,802.0L831.4,798.8L833.7,795.6L836.9,792.0L839.8,790.6L842.8,794.7L847.2,794.4L849.4,788.3L851.4,786.6L856.3,785.7L856.8,782.7L859.3,784.6L863.6,785.9L868.8,785.9L866.2,789.4L865.5,794.3L864.3,794.9L868.4,797.9L872.5,800.9L875.5,803.3L879.0,803.4L881.2,798.7L882.1,795.1L882.5,790.2L883.4,787.5L884.5,782.2Z M873.5,892.4L877.5,894.8L883.3,894.2L881.9,899.1L879.3,904.5L875.5,906.0L873.5,905.5L873.0,899.2L872.8,894.6Z M960.1,871.4L961.2,874.2L963.7,875.8L963.4,882.6L965.7,881.4L965.8,885.7L968.0,888.2L972.9,887.7L970.1,892.3L969.2,894.4L965.9,895.8L964.7,899.6L958.2,905.4L957.3,903.8L960.1,897.6L957.2,893.9L960.4,891.3L962.2,887.2L962.2,883.7L962.2,880.7L960.4,873.7Z M952.6,899.3L953.4,899.6L955.0,901.8L955.2,905.7L952.6,908.8L948.8,912.4L948.6,915.5L946.5,915.8L942.6,917.9L940.5,921.3L938.5,925.0L933.7,928.3L930.5,927.9L928.9,925.5L926.5,924.9L928.5,920.7L932.8,917.6L937.1,914.3L941.8,910.5L945.5,908.2L947.7,904.9L950.8,900.3Z M928.0,928.6L929.5,929.4L928.7,930.9L927.3,930.7Z M655.0,910.1L659.5,910.8L658.5,912.8L655.0,912.6Z M740.3,708.4L741.3,710.0L741.0,714.3L740.1,713.6Z M585.7,765.6L586.7,766.6L586.2,767.6Z M423.5,664.0L425.8,663.3L424.7,664.9Z M426.6,664.8L427.8,664.6L427.5,665.9Z M430.9,662.9L432.4,662.7L430.9,664.8Z M403.0,704.1L403.9,703.8L403.6,705.0Z M452.7,538.9L454.7,537.9L454.4,541.2Z M466.9,548.5L468.4,545.4L468.2,548.1Z M450.5,493.3L452.7,491.6L452.0,493.1Z M509.7,470.3L510.7,469.6L510.4,470.6Z"/></g>
<g fill="#d6d7e3" stroke="#d6d7e3" stroke-width="0.5" stroke-linejoin="round"><path d="M35.1,533.2L34.8,532.3L33.0,532.2L30.8,532.9L29.5,534.1L29.9,534.9L31.7,535.0L33.9,534.3Z M29.5,534.9L29.1,534.2L27.5,534.1L25.6,534.7L24.5,535.7L24.8,536.5L26.4,536.6L28.3,535.9Z M22.1,536.8L22.0,536.4L21.3,536.4L20.4,536.7L20.0,537.1L20.1,537.5L20.8,537.5L21.6,537.2Z M14.6,538.3L14.5,538.0L13.7,537.9L12.7,538.2L12.2,538.8L12.3,539.1L13.1,539.2L14.1,538.8Z M10.3,538.3L10.0,537.5L8.4,537.5L6.4,538.1L5.3,539.1L5.7,539.9L7.3,540.0L9.2,539.3Z M2.8,538.9L2.5,538.4L1.3,538.3L-0.1,538.8L-1.0,539.6L-0.7,540.1L0.5,540.2L1.9,539.7Z M-1.3,538.6L-1.5,538.2L-2.4,538.2L-3.5,538.5L-4.1,539.1L-3.9,539.5L-3.0,539.6L-1.9,539.2Z M-5.8,540.0L-6.0,539.6L-6.8,539.6L-7.8,539.9L-8.3,540.4L-8.1,540.8L-7.3,540.8L-6.4,540.5Z M-10.2,538.7L-10.4,538.3L-11.4,538.2L-12.6,538.6L-13.4,539.3L-13.1,539.7L-12.1,539.8L-10.9,539.4Z M-13.4,535.4L-13.6,535.0L-14.4,535.0L-15.4,535.3L-15.9,535.9L-15.8,536.2L-15.0,536.3L-14.0,536.0Z M-22.3,527.4L-22.5,526.9L-23.5,526.9L-24.7,527.3L-25.5,528.0L-25.3,528.5L-24.3,528.5L-23.1,528.1Z M150.0,451.1L146.6,446.2L141.5,443.6L136.9,440.3L133.1,438.0L130.5,433.9L126.7,431.5L124.4,426.8L118.6,429.4L112.3,430.4L106.2,430.9L100.7,434.5L93.9,438.0L89.5,437.4L85.5,440.5L86.9,443.7L88.1,448.2L87.5,452.3L90.3,454.1L90.3,458.3L86.6,459.6L84.2,455.9L81.9,455.1L76.8,456.4L69.1,459.0L71.1,462.9L69.2,467.2L71.9,469.2L76.4,470.2L80.7,471.5L79.3,475.7L75.8,478.2L72.9,476.9L68.4,478.7L64.3,481.3L57.8,487.0L56.0,493.8L56.9,499.0L60.9,499.6L59.7,504.5L58.4,508.2L63.1,507.9L66.0,510.0L70.2,510.2L65.9,517.1L61.9,520.0L54.3,524.1L47.4,526.4L39.5,529.8L44.3,530.1L49.3,528.7L56.1,526.3L61.6,523.7L68.5,519.5L74.3,516.3L79.5,511.6L82.5,508.4L87.8,503.7L90.8,501.0L95.6,499.5L90.9,503.1L86.0,509.9L91.2,509.7L96.5,507.6L100.2,503.2L104.5,502.9L105.3,507.0L108.1,509.9L112.9,511.5L116.5,513.9L119.5,518.2L121.6,522.8L122.0,529.4L122.1,535.7L122.8,540.8L123.7,544.2L127.6,544.8L130.1,544.9L133.8,539.3L131.1,534.4L130.9,527.5L129.8,522.0L129.2,518.3L125.7,517.0L121.7,519.5L120.9,513.5L116.4,510.1L150.0,451.1Z M141.3,575.3L140.7,579.4L138.9,579.0L135.1,577.4L134.8,583.9L134.1,587.2L133.1,590.5L131.0,596.9L128.5,601.7L127.9,607.4L126.2,611.9L126.8,616.5L128.1,620.6L128.9,623.1L130.0,626.1L129.4,628.6L131.9,633.0L131.7,635.7L135.1,637.0L137.0,637.7L137.4,638.9L140.0,641.4L140.2,643.7L147.2,643.2L156.6,648.6L164.9,648.9L165.1,647.3L170.0,647.5L173.6,651.7L174.4,655.4L177.8,657.6L180.6,654.9L183.4,655.1L185.8,660.3L187.7,663.1L188.4,666.8L190.8,668.1L193.8,668.5L193.4,665.6L194.4,662.6L198.6,659.6L202.4,657.0L207.4,655.9L211.6,656.9L215.1,658.3L218.0,658.4L217.2,655.7L218.5,654.3L222.0,654.4L226.3,654.2L229.4,656.7L232.7,655.6L234.5,656.8L236.4,659.5L235.9,663.6L237.0,666.6L237.9,669.2L239.6,672.0L241.6,671.9L242.5,670.3L243.2,666.7L242.3,661.0L240.8,656.6L241.0,653.6L242.7,649.2L245.8,647.2L248.4,645.2L252.4,642.9L256.8,640.2L259.9,638.4L259.6,635.0L259.4,632.4L258.5,631.1L259.4,627.5L259.4,624.2L260.4,626.5L259.9,631.5L261.7,629.0L262.9,626.6L262.6,623.6L264.0,625.3L266.4,622.7L267.1,619.8L267.9,618.7L271.5,618.7L273.3,618.0L271.8,617.2L274.9,616.8L277.2,616.5L279.0,615.9L279.2,614.6L276.9,613.5L277.8,611.3L280.3,608.4L284.8,606.4L289.3,604.7L288.5,602.7L287.7,601.1L288.7,595.8L285.2,594.1L282.5,596.9L281.0,600.0L277.5,602.5L277.1,603.2L268.3,602.8L263.3,605.6L261.5,607.7L256.3,607.4L255.0,608.6L255.2,610.4L251.2,611.9L244.6,614.2L242.9,613.0L245.0,610.8L245.6,609.3L246.9,607.0L247.2,600.4L244.9,598.0L244.9,597.0L242.8,595.3L242.1,593.6L233.9,587.2L231.2,588.2L227.3,587.1L224.2,586.2L220.3,585.0L217.6,583.9L217.4,581.3L216.4,582.8L203.2,581.6L189.6,580.3L176.0,579.0L162.4,577.6L148.8,576.1L141.3,575.3Z M72.6,520.4L73.9,523.1L79.4,520.5L81.3,517.2L79.8,515.6L75.3,517.2Z M51.1,471.3L53.7,474.5L57.1,474.7L56.3,471.3L52.8,469.0Z M49.3,494.9L51.5,498.3L53.9,496.1L52.5,494.0Z M20.8,685.9L21.6,684.1L23.6,685.6L24.2,686.8L21.7,688.7Z M19.5,681.8L21.4,682.2L20.5,682.9Z M15.3,679.3L16.8,679.9L15.6,680.2Z M11.2,677.2L12.4,677.1L11.9,678.0Z M321.5,852.3L324.7,847.1L327.0,844.8L329.2,840.8L330.6,837.5L333.5,834.6L333.1,830.1L333.2,826.6L334.7,823.7L339.1,820.5L343.5,818.3L347.8,817.4L351.2,817.2L353.9,814.2L355.7,809.0L357.0,806.8L358.5,802.0L358.9,797.4L358.7,792.3L360.0,787.0L364.2,781.0L367.9,777.0L370.2,772.5L370.3,769.5L368.9,764.0L363.3,762.8L359.5,759.6L355.1,756.9L350.8,757.2L346.4,755.8L342.9,756.7L342.0,754.0L337.6,751.7L333.3,750.5L330.4,749.7L326.0,749.4L324.5,747.9L326.0,743.5L323.1,740.0L321.4,736.5L318.4,741.5L312.9,742.1L308.5,743.2L305.6,742.9L301.2,745.0L297.2,744.7L297.8,740.9L296.9,737.1L297.0,733.6L294.9,733.6L292.9,735.6L288.2,737.4L284.7,736.8L285.2,741.5L287.0,742.4L280.8,746.4L276.8,745.3L276.2,743.8L268.3,743.8L270.4,746.9L267.7,747.2L267.6,749.4L269.5,752.0L268.0,761.1L265.5,761.2L259.4,764.0L257.0,770.2L259.5,775.3L261.9,778.2L266.5,776.7L266.7,781.2L269.8,781.1L272.5,781.5L278.2,777.9L281.6,777.3L282.1,782.7L284.8,785.7L289.6,787.2L294.8,788.6L297.1,793.2L297.6,797.1L302.8,797.1L303.6,800.7L305.7,802.9L305.0,805.3L304.1,808.7L305.4,814.9L311.4,815.5L313.0,820.8L316.1,820.9L315.7,825.8L318.0,827.1L318.3,830.8L313.0,834.5L308.4,840.8L313.2,842.7L317.4,844.9L321.7,848.8L321.5,852.3Z M832.1,601.7L834.6,598.0L838.1,599.0L842.4,594.1L844.9,588.3L846.9,580.9L847.6,574.5L849.2,569.3L847.0,560.9L846.2,552.0L843.9,546.9L839.2,544.4L834.3,543.0L830.8,544.7L824.5,541.8L827.7,538.5L828.4,530.9L831.1,522.7L831.8,515.1L833.9,512.5L840.4,510.8L847.8,508.5L852.7,507.0L858.7,509.3L862.3,505.2L860.8,498.7L860.9,490.9L865.9,488.2L868.8,486.7L873.5,494.1L874.1,487.5L877.4,479.8L878.2,487.1L878.0,494.4L877.2,503.7L877.1,511.7L875.3,518.0L876.2,524.7L877.7,530.5L881.9,538.7L885.6,543.9L890.1,552.4L891.0,548.7L890.5,540.7L893.8,538.3L891.6,533.9L895.1,529.6L892.5,524.5L895.0,520.2L891.6,515.1L889.8,510.2L886.8,509.5L886.8,502.7L887.6,496.2L889.1,492.2L894.3,490.1L901.0,492.7L901.2,484.5L904.2,477.5L908.7,470.5L913.7,470.6L911.4,465.6L904.4,459.4L898.7,455.2L897.7,449.4L899.4,441.5L905.3,445.8L913.1,448.5L922.7,450.5L924.0,447.3L921.6,439.8L921.5,434.3L914.3,430.0L910.9,429.4L904.7,430.9L893.8,426.3L884.5,422.0L876.0,420.4L867.4,418.8L860.3,420.8L853.7,421.5L858.5,429.5L851.7,426.3L844.6,430.0L837.4,433.7L826.8,427.2L819.1,426.3L811.0,430.4L802.3,428.0L790.3,424.8L781.1,425.4L774.7,425.8L774.9,431.5L775.3,437.8L768.3,439.3L764.9,442.2L763.3,447.8L760.2,447.1L753.3,440.7L746.2,434.2L739.9,430.8L733.1,432.2L735.6,437.7L727.6,439.4L715.2,438.0L710.1,437.9L704.4,438.8L703.0,442.6L699.4,447.0L699.3,438.6L702.7,430.3L701.1,422.4L692.8,417.4L684.3,417.3L673.2,413.9L671.1,422.6L670.1,428.6L664.0,432.2L658.2,436.4L654.9,439.0L651.5,445.7L653.4,453.2L647.4,456.5L642.4,458.4L647.1,468.7L641.8,467.7L638.8,466.1L632.8,465.9L627.7,466.1L621.4,466.6L620.5,470.2L621.8,476.8L621.2,484.8L622.4,489.6L626.0,495.2L621.8,493.4L618.9,492.0L608.6,489.8L607.8,494.7L605.6,495.6L601.5,497.9L597.1,499.0L595.1,500.4L593.1,497.8L588.0,500.7L583.2,505.2L578.1,504.0L579.5,510.0L574.8,510.4L572.9,507.3L570.5,501.6L573.5,510.0L574.5,514.2L570.7,513.5L565.6,518.1L567.9,523.4L562.0,524.6L562.7,527.1L558.7,526.8L554.7,524.6L553.3,519.5L548.1,514.1L546.2,511.6L552.8,513.8L560.4,515.9L566.0,513.9L566.7,509.5L565.6,506.3L562.4,504.9L557.8,503.0L551.3,499.5L545.8,499.7L542.8,496.7L540.0,496.9L536.6,501.4L536.0,504.6L539.9,508.7L538.4,513.1L542.0,519.2L541.7,523.8L544.1,526.7L547.4,532.9L544.5,538.4L539.8,544.4L542.0,543.6L546.2,546.9L543.2,547.3L540.9,549.2L539.7,551.9L540.6,556.7L541.3,558.4L543.2,563.7L547.9,564.8L550.4,565.8L550.5,569.2L552.1,571.6L556.2,574.7L553.2,576.1L554.4,580.1L559.6,578.9L563.3,583.3L565.3,586.4L570.4,586.6L572.4,588.1L577.7,589.1L577.3,592.2L578.0,595.9L573.8,597.0L573.8,598.9L573.5,600.7L571.0,603.1L570.3,605.7L570.4,607.2L572.4,608.2L577.4,610.6L579.5,612.4L580.3,612.4L584.5,612.8L588.7,613.9L592.9,614.5L596.3,615.1L598.8,617.4L602.7,619.6L604.6,617.4L606.5,613.0L605.5,605.6L603.9,600.8L601.8,599.3L597.1,594.9L595.4,593.0L596.3,589.9L595.6,587.1L599.3,587.0L600.2,584.1L604.6,579.8L609.4,580.0L615.1,581.7L618.9,583.1L623.1,581.3L626.0,580.9L629.7,582.1L633.9,581.4L629.0,577.2L631.3,575.3L629.9,572.5L630.4,568.6L634.9,567.4L639.8,565.7L647.6,562.4L654.0,560.5L655.8,565.3L662.7,566.0L665.7,567.1L670.2,564.0L675.0,567.6L683.3,577.6L691.2,576.3L699.4,581.7L704.7,583.0L710.5,579.9L715.7,575.4L723.3,577.8L731.6,577.9L732.9,574.7L732.4,567.4L742.3,570.1L743.5,573.1L753.9,573.2L761.9,576.7L767.6,577.0L773.6,573.6L783.6,572.3L787.1,573.5L789.7,569.4L789.9,563.5L790.1,558.5L790.9,554.4L795.7,552.4L802.0,554.1L804.1,556.1L812.2,566.9L819.1,570.2L825.8,577.6L830.7,575.1L834.9,573.4L834.7,578.5L835.4,588.8L831.8,594.2L832.2,598.6L832.1,601.7Z M603.9,600.8L601.8,599.3L597.1,594.9L595.4,593.0L596.3,589.9L595.6,587.1L599.3,587.0L600.2,584.1L604.6,579.8L609.4,580.0L615.1,581.7L618.9,583.1L623.1,581.3L626.0,580.9L629.7,582.1L633.9,581.4L629.0,577.2L631.3,575.3L629.9,572.5L630.4,568.6L634.9,567.4L639.8,565.7L647.6,562.4L654.0,560.5L655.8,565.3L662.7,566.0L665.7,567.1L670.2,564.0L675.0,567.6L683.3,577.6L691.2,576.3L699.4,581.7L704.7,583.0L701.5,586.6L702.5,591.6L695.1,592.1L694.7,599.0L689.1,601.4L690.6,604.5L691.7,612.2L687.9,610.1L678.7,610.2L673.8,609.3L672.9,612.0L665.9,613.1L661.3,617.1L659.1,619.0L654.4,617.7L652.3,613.4L640.5,609.8L637.2,606.5L629.9,602.3L623.2,604.9L625.3,618.5L621.6,616.1L616.6,615.9L615.1,617.2L610.6,612.8L607.1,607.4L607.6,601.8L603.9,600.8Z M585.6,483.4L585.4,478.9L585.0,470.3L586.7,461.6L587.1,456.4L590.2,449.8L597.5,446.2L602.0,441.2L607.5,438.9L608.3,443.2L603.1,449.1L596.7,455.6L593.7,462.7L593.2,471.2L593.1,477.9L599.1,486.1L593.5,486.8L589.6,485.4Z M651.0,409.1L651.4,398.1L661.1,402.4L670.2,408.9L665.9,414.5L656.9,411.3Z M634.7,399.4L636.6,389.4L643.4,392.9L643.3,400.9Z M750.2,408.0L751.1,401.1L760.2,399.4L766.6,402.2L766.0,407.9L760.3,412.4Z M770.2,401.7L777.1,398.7L782.6,401.9L776.6,404.5Z M769.2,422.1L771.4,416.2L777.1,420.0L774.1,423.2Z M864.2,406.3L865.6,401.2L871.9,401.7L871.2,405.9Z M552.5,417.7L558.4,412.7L563.6,416.7L558.2,420.5Z M567.2,411.0L573.1,404.6L580.9,409.1L574.8,415.5Z M580.9,497.9L582.4,494.8L585.3,496.9L583.4,499.4Z M602.7,489.9L603.6,486.7L607.1,488.7L606.2,491.3Z M858.8,582.5L859.0,578.5L862.5,581.3L859.4,575.5L857.4,573.3L856.2,566.4L861.9,568.4L855.7,559.7L852.7,554.8L849.8,548.2L847.3,544.2L845.0,540.0L845.9,544.9L845.0,546.2L846.8,551.4L848.3,554.4L851.7,560.3L853.9,567.2L855.5,572.5L856.9,578.3Z M871.6,591.1L873.4,587.5L874.7,587.9L872.6,591.4Z M874.5,586.5L877.5,582.2L878.7,582.6L875.9,586.3Z M879.9,580.9L881.9,578.2L882.8,579.1L880.6,581.4Z M888.2,561.3L888.9,555.7L889.2,553.5L890.1,555.0L889.7,561.6Z M903.5,523.5L905.9,524.9L907.0,525.9L904.6,524.5Z M887.2,504.7L887.7,501.8L890.0,503.3L888.9,506.3Z M861.8,602.6L863.5,602.9L864.7,606.8L867.2,610.6L867.5,616.2L865.9,616.7L867.0,621.7L866.7,624.7L867.9,626.9L867.1,629.2L865.8,630.5L865.2,627.7L864.8,629.3L863.5,629.6L863.3,631.9L861.9,630.1L861.4,632.0L858.0,632.2L857.2,630.6L858.0,633.4L856.6,635.1L855.4,636.9L853.2,635.3L853.0,633.9L853.4,632.3L851.3,632.0L849.2,633.1L845.3,634.1L843.7,635.6L841.1,635.8L841.0,634.0L843.5,631.9L845.9,629.3L849.2,628.9L852.2,628.1L854.3,628.2L854.0,626.0L855.0,623.0L854.6,620.9L856.3,620.4L855.7,622.1L856.5,623.3L859.1,621.5L860.6,618.2L861.7,614.0L860.3,609.6L860.4,606.8L860.5,604.1L862.2,605.5L863.0,603.9Z M859.7,603.3L858.0,599.4L857.9,594.6L860.9,595.0L860.7,591.5L858.8,584.9L859.3,584.2L863.5,588.1L868.0,590.5L870.4,588.6L870.8,592.1L873.1,593.0L869.7,595.2L867.9,600.1L862.4,597.6L861.1,599.1L858.9,598.4L860.6,600.5L862.2,601.2L860.9,601.6Z M841.2,636.0L843.8,637.0L844.7,639.3L844.8,645.5L843.8,646.1L842.7,647.1L841.2,646.2L840.6,643.0L839.1,640.5L837.8,638.3L840.0,637.2Z M844.8,637.9L847.0,635.0L849.9,633.7L851.5,634.2L852.1,635.7L851.1,638.0L849.1,637.1L848.1,640.2L846.5,639.4Z M837.1,665.3L838.6,662.6L838.0,664.9Z M858.1,618.2L858.7,616.8L859.3,618.7Z M699.1,659.7L699.7,657.1L701.8,655.2L704.0,654.6L708.8,658.2L710.9,659.2L713.6,660.2L716.4,662.1L719.7,662.5L722.6,662.3L723.2,667.3L720.0,667.2L716.5,666.8L712.7,664.5L709.0,664.5L704.8,662.7L699.9,660.5Z M522.4,570.7L523.9,569.4L525.3,567.9L529.8,569.4L529.8,571.7L521.7,571.5Z"/></g>
<g fill="#f4fbfe" stroke="none"><path d="M603.9,600.8L608.4,598.3L612.5,598.1L614.8,600.3L614.8,604.1L610.2,604.3L609.8,607.3L607.9,607.4L610.7,610.4L613.0,612.0L615.8,614.1L615.1,617.2L616.8,619.5L616.6,621.7L619.0,623.4L617.3,625.6L620.5,628.7L621.3,632.2L621.8,634.2L618.5,634.8L614.9,635.1L611.3,633.5L609.0,632.5L607.5,631.8L606.9,629.4L606.8,628.2L607.9,625.9L607.8,623.0L610.3,622.4L607.9,621.6L606.2,619.2L604.6,617.4L603.7,616.5L601.0,613.2L600.1,610.3L598.3,607.0L599.7,603.6L602.3,602.3Z M551.2,620.9L547.9,618.2L547.3,613.9L549.0,611.7L549.1,610.3L551.6,606.6L554.0,601.7L556.0,601.3L557.3,601.6L560.2,603.0L561.8,603.0L559.1,605.8L561.8,608.5L563.5,609.2L567.1,606.9L570.1,606.4L570.9,606.4L572.3,607.1L573.8,607.8L577.6,609.9L579.4,611.7L580.3,612.4L583.2,613.7L585.0,615.8L585.4,618.7L582.6,620.7L580.4,621.0L576.9,621.4L572.9,620.4L571.0,620.1L567.4,617.7L563.0,617.8L559.8,618.8L557.5,620.4L554.5,620.9Z M570.2,605.3L566.7,605.6L565.3,602.9L566.6,601.7L570.2,600.3L571.9,598.9L575.6,598.4L576.8,598.8L574.2,600.3L574.0,603.0L572.4,605.6L570.8,605.3Z M629.2,465.8L633.3,467.2L635.2,474.5L636.6,484.2L641.6,491.0L649.7,492.8L653.8,497.0L645.4,501.3L642.3,503.0L639.7,506.3L639.6,501.0L636.5,493.7L636.8,489.3L631.9,478.4L630.1,472.0Z M642.6,458.7L651.1,464.3L656.6,473.8L657.7,479.1L654.3,477.0L651.4,469.3L645.9,466.1Z M564.0,747.9L567.7,747.6L570.9,749.4L570.6,752.3L568.6,755.5L567.1,756.7L564.5,755.8L563.9,751.7Z"/></g>
<g fill="none" stroke="#dedee0" stroke-width="0.7" stroke-linejoin="round"><path d="M603.9,600.8L601.8,599.3L597.1,594.9L595.4,593.0L596.3,589.9L595.6,587.1L599.3,587.0L600.2,584.1L604.6,579.8L609.4,580.0L615.1,581.7L618.9,583.1L623.1,581.3L626.0,580.9L629.7,582.1L633.9,581.4L629.0,577.2L631.3,575.3L629.9,572.5L630.4,568.6L634.9,567.4L639.8,565.7L647.6,562.4L654.0,560.5L655.8,565.3L662.7,566.0L665.7,567.1L670.2,564.0L675.0,567.6L683.3,577.6L691.2,576.3L699.4,581.7L704.7,583.0 M204.4,705.2L204.7,702.9L206.3,700.6L209.8,700.5L210.1,699.5L207.5,696.9L208.6,696.9L208.8,695.1L214.1,695.2L216.7,693.2 M214.1,695.2L213.5,701.1L214.4,701.1 M216.1,701.8L213.3,704.2L212.8,705.8L210.5,707.8 M212.8,705.8L215.1,707.0L217.1,708.9L217.3,710.1 M218.4,710.1L220.3,707.8L223.3,707.1L226.0,704.6L230.9,704.0 M222.8,715.9L225.7,716.2L228.7,716.5 M230.6,725.1L230.8,722.2L231.6,720.6 M245.0,727.6L247.1,725.5L246.6,723.3 M264.9,689.7L264.8,692.9L264.5,694.9 M264.7,713.9L261.4,716.0L259.9,719.3L261.1,724.1L262.2,728.2L267.7,728.2L269.7,730.9L275.2,730.6L274.1,735.6L275.7,738.8L274.2,740.6L276.8,745.3 M242.1,744.6L245.3,746.4L249.4,747.6L252.3,749.1L257.3,752.6L259.3,755.8L262.8,755.2L267.5,756.7L268.0,761.1 M237.8,758.7L237.6,761.7L241.7,763.4L243.3,758.7L248.5,756.4L251.4,753.3L252.3,749.1 M269.7,781.1L272.4,785.7L271.7,789.3L271.1,794.2L271.5,797.0L270.9,800.9L268.6,803.6 M270.9,800.9L274.1,805.6L274.7,810.2L276.8,817.4L278.8,817.4L281.4,814.2L287.1,817.3L291.7,815.5L292.3,810.1L293.9,807.4L301.3,806.3L304.1,808.7 M291.7,815.5L296.9,820.4L303.4,823.4L307.0,825.0L304.7,831.1L310.7,832.0L312.4,831.5L315.7,825.8 M278.8,817.4L276.1,822.9L276.1,828.6L273.1,835.9L272.7,844.2L274.8,851.9L274.0,858.5L273.7,868.4L273.3,877.5L274.9,886.7L277.2,896.2L276.8,904.1L275.9,912.3L279.9,918.3L281.6,922.4L289.7,922.3L291.5,923.2 M291.3,924.5L293.5,934.1 M307.5,853.5L307.5,848.4L308.4,840.8 M297.2,724.1L293.6,728.3L293.8,730.6L292.9,731.5L294.9,733.6 M305.2,731.2L304.9,733.3L303.0,737.1L305.6,739.1L307.1,743.2 M314.5,732.1L313.3,734.5L313.8,738.3L312.6,742.1 M465.3,642.3L466.4,644.3L466.7,649.2L467.8,652.1L461.3,655.6L457.3,658.8L446.9,662.9L446.9,667.3L457.7,674.5L474.9,686.5L481.1,692.4L483.8,692.3L488.3,691.3L493.0,687.2L505.8,679.0L500.1,676.0L498.3,670.7L499.6,666.0L498.3,658.0L496.8,652.0L492.5,646.5L494.6,643.6L494.2,637.6L495.3,636.1 M434.1,666.1L446.9,666.2 M446.9,667.3L446.8,671.4L437.3,671.4L437.2,679.2L434.3,680.6L433.9,685.7L422.7,685.7 M457.7,674.5L452.7,674.5L455.7,700.3L455.7,703.3L444.7,703.3L440.4,704.2L438.3,703.0L436.3,705.4 M498.3,658.0L500.5,653.3L503.8,650.4L503.9,648.6 M542.3,653.4L541.3,657.9L542.3,661.1L543.3,683.5L543.5,689.6L540.6,689.7L540.6,691.2L517.3,679.2L514.5,680.6L512.2,681.8L505.8,679.0 M543.3,683.5L577.4,683.4 M540.6,691.2L541.0,702.6L537.8,703.2L535.3,710.7L536.9,716.6L540.2,722.5L542.8,723.4L544.9,726.0L551.4,733.9 M423.9,701.6L429.7,699.8L433.1,703.0L436.3,705.4L438.5,712.5L438.3,713.4 M423.1,708.9L428.2,708.3L431.6,709.5L428.1,709.8L423.1,710.4 M423.2,712.6L428.1,711.7L431.9,711.7L431.9,714.5L428.1,716.8 M431.9,711.7L438.3,713.4L445.5,712.5L447.5,716.6L448.4,719.0L447.5,722.5L447.5,726.6L444.3,727.2L441.7,724.3L438.5,719.6L435.3,719.9L433.0,722.3 M441.7,724.3L440.8,726.0L438.2,728.5 M447.5,726.6L449.8,731.3L449.6,736.0 M448.4,719.0L453.6,718.1L455.6,718.2L458.0,720.4L463.5,720.4L463.8,721.0 M436.3,705.4L438.5,712.5 M455.6,718.2L456.2,714.3L458.8,712.2L460.9,709.8L463.2,707.2L465.8,706.6L469.6,704.8L472.2,704.9L474.2,708.9L478.0,712.2L478.6,714.0 M455.7,700.3L455.7,703.3 M483.8,692.3L483.8,699.4L481.7,703.6L475.3,703.9L472.2,704.9 M463.8,721.0L463.2,725.4L462.3,729.8L463.6,733.9 M463.2,716.6L469.6,716.6L471.6,716.3L474.2,716.6 M463.8,721.0L463.2,716.6L456.2,714.3 M471.6,716.3L473.1,719.6L472.8,724.0L473.4,728.4L475.1,731.0 M474.2,716.6L475.7,721.6L476.3,728.4L476.4,730.7 M474.2,716.6L478.6,714.0L482.0,714.6L482.3,719.0L479.7,722.5L479.5,730.1 M478.0,712.2L482.0,714.6L483.2,709.2L491.9,710.7L497.7,711.3L502.0,709.8L511.0,708.6L512.4,710.4 M512.4,710.4L513.9,713.7L511.1,719.6L507.9,724.0L504.5,729.5L500.7,728.9L497.2,732.5L496.6,734.8 M511.0,708.6L510.7,706.5L516.3,699.1L516.5,692.8L517.3,688.5L514.5,680.6 M512.4,710.4L514.8,711.6L515.4,716.6L512.3,719.8L516.6,719.8L516.7,726.6L513.8,730.7L514.1,734.5L518.2,740.3L518.8,743.5 M516.7,726.6L521.0,726.6L525.7,725.1L527.1,722.5L532.6,721.3L536.9,716.6 M500.2,742.1L504.5,742.4L510.4,742.4L513.8,742.7L518.2,743.8L518.8,743.5 M499.6,745.9L504.5,745.9L504.5,742.4 M504.5,742.4L510.1,742.4L513.9,745.0L512.1,748.8L513.9,750.5L513.6,754.3L508.9,754.6L508.0,757.2L505.4,757.2L503.9,760.3 M518.8,743.5L523.5,745.9L523.2,750.2L518.8,754.6L518.2,759.3L514.1,763.1L510.6,762.8L508.9,761.6L506.5,763.4 M507.1,765.5L508.1,763.4L509.5,762.2 M507.4,766.6L510.6,766.0L519.9,766.0L521.0,770.1L528.0,772.1L535.0,770.1L535.5,777.1L536.3,781.6L541.2,781.0L541.1,786.9L535.3,786.9L535.1,796.4L539.1,800.6 M541.2,781.0L545.0,782.8L549.6,783.8L553.9,785.4L557.9,788.1L555.7,785.1L554.0,783.4L555.0,777.5L555.6,773.6L561.0,772.7 M525.8,736.0L525.5,738.6L523.5,745.9 M525.8,736.0L528.4,733.9L536.8,736.8L542.9,733.9L545.2,733.3L551.4,733.9L554.3,736.2L559.0,737.1L561.4,738.6 M561.4,738.6L562.8,742.5L558.1,746.4L557.8,752.9L556.1,756.6L557.2,761.8L557.7,766.9L561.0,772.7 M557.8,752.9L560.5,751.8L561.3,755.6L560.1,755.5L556.1,756.6 M561.3,755.6L560.4,758.4L557.2,761.8 M560.5,751.8L570.4,751.7 M570.4,751.7L581.1,757.5L581.7,759.6L585.7,762.4 M570.4,751.7L570.7,748.2L573.6,743.8L570.6,736.5L576.1,735.4 M561.4,738.6L564.8,738.3L569.2,737.8L570.6,736.5 M576.1,735.4L579.0,735.8L582.5,738.3L586.9,738.9L591.0,737.3L593.6,737.3 M591.0,751.3L591.0,740.6L593.6,737.3L596.8,735.4L602.3,734.5L611.2,725.4L608.3,725.4L599.5,722.4L596.1,716.6L596.9,715.2 M576.1,735.4L574.3,733.0L570.5,728.3L567.6,726.0L568.1,724.2L570.7,723.6L571.2,718.0L573.1,714.2L576.2,711.5L577.2,706.7L581.2,704.9L583.0,706.4L587.9,706.2L592.4,710.3L594.5,712.0L596.5,711.4 M577.2,706.7L576.9,704.3L578.4,698.6L582.9,695.6 M592.7,715.0L592.9,716.5L596.1,716.6 M594.5,712.0L592.7,715.0 M540.2,722.5L544.2,718.6L548.6,721.0L552.9,721.3L557.3,720.1L561.1,720.2L565.6,714.5L567.9,713.0L567.4,718.9L570.7,723.6 M585.7,762.4L585.7,762.5 M589.0,779.6L581.9,781.9L573.0,782.7 M573.0,782.7L571.8,776.9L570.1,776.6L567.3,776.3L568.3,780.4L567.8,785.5L566.3,788.7L567.7,789.9L571.4,791.1L575.0,795.9L573.2,799.2L570.7,795.3L571.7,791.4 M561.0,772.7L567.3,776.3 M567.7,789.9L559.0,792.6L559.5,794.8L566.6,798.0L566.4,801.9L566.4,807.4L564.9,812.1L561.3,815.3L563.0,821.9L562.6,826.4L562.9,829.2L565.2,829.2 M559.5,794.8L555.1,795.7L549.4,801.7L544.4,801.3L539.1,800.6L532.1,802.7L531.8,814.0L528.9,814.0L528.6,822.6L528.2,833.9L520.8,834.8L518.3,834.4 M544.4,801.3L547.0,806.7L551.2,809.5L551.9,812.8L555.9,814.7L561.3,815.3 M528.6,822.6L530.7,828.8L535.9,826.7L537.2,824.2L544.5,825.2L548.5,819.3L555.9,814.7 M505.6,799.5L509.1,798.8L512.0,800.0L524.7,800.0L533.3,801.5L539.1,800.6 M547.9,837.8L550.3,835.6L553.4,835.6L554.7,837.9L552.3,840.1L549.2,840.4 M559.9,825.7L562.5,826.4 M559.9,825.7L559.2,828.7L562.2,830.3L562.9,829.2 M447.3,619.2L449.2,619.4L453.3,619.1L454.4,620.3L452.4,622.4L452.1,626.9L450.7,627.0L452.0,632.0L450.8,635.3 M466.4,614.2L469.4,615.8L473.2,616.3L476.0,617.2L479.9,617.3 M491.7,612.5L490.3,610.7L489.9,607.5L490.1,605.0L487.7,603.9L487.6,603.1L489.7,599.8L491.4,598.9L493.0,593.6L488.2,591.8L486.6,591.4L484.0,589.7L482.3,588.6L477.9,585.5 M490.1,605.0L492.5,604.8L493.8,602.9L495.5,605.1L496.2,602.7L499.3,601.2L499.5,602.5L503.7,600.8L504.5,601.9L508.1,602.6L507.9,605.3 M491.4,598.9L494.2,598.5L496.8,598.8L497.0,600.7L499.3,601.2 M496.8,598.8L499.3,598.8L503.8,598.4L506.0,598.9L505.4,596.3L507.9,594.2L511.1,593.2L516.2,594.3L516.9,596.5L514.4,601.2L510.2,602.7L508.1,602.6 M507.9,594.2L504.3,590.6L503.1,588.4L508.8,585.6L510.1,586.1L510.6,585.1L509.6,581.2L507.9,578.1L508.0,574.0 M488.2,591.8L487.3,589.3L487.0,586.8L486.8,582.5L488.7,582.3L489.5,580.3L489.8,576.9 M487.0,586.8L486.2,586.6L484.8,584.1L480.1,584.5 M493.3,570.2L496.6,570.6 M510.1,586.1L514.2,587.0L515.8,587.8L521.2,591.1L521.3,591.1 M516.2,594.3L518.8,597.8L521.5,597.4L525.6,594.8L530.3,595.1L531.1,592.5L532.1,592.8 M521.2,591.1L524.6,592.2L531.1,592.5 M532.1,592.8L531.4,590.7L534.4,585.8L533.1,583.1L532.7,578.7L533.0,573.5L532.0,573.3 M521.8,571.5L529.9,571.7L532.0,573.3L533.0,573.5L537.0,571.7L539.3,566.0L543.0,563.8 M532.0,573.3L529.8,569.4L525.3,567.9 M529.9,571.7L529.8,569.4 M524.9,564.7L527.2,563.2L534.6,562.8L539.3,566.0 M532.6,556.7L534.9,556.1L540.3,557.8 M533.1,583.1L536.8,582.4L544.1,582.4L551.4,583.3L554.4,580.1 M530.3,595.1L532.4,596.8L537.8,597.6L542.2,595.4L547.4,605.7L547.4,605.7 M542.2,595.4L545.3,594.6L549.5,598.3L552.3,602.1L549.3,603.7L547.4,605.7L551.6,606.6 M532.4,596.8L527.8,603.2L525.8,603.8L522.5,604.6L519.2,605.0L515.6,602.5L514.4,601.2 M525.8,603.8L529.4,607.0L532.8,609.5L532.2,608.8L532.9,610.6L532.0,612.0L534.0,614.2L532.5,617.4 M532.9,610.6L536.6,612.3L540.6,612.4L544.6,610.5L549.1,611.9 M522.5,604.6L523.0,608.2L524.5,611.4L523.5,613.2L526.8,615.5L526.2,616.6L524.4,618.9 M519.2,605.0L513.7,607.3L514.1,609.1L519.3,614.7L521.8,617.2 M508.0,606.2L512.6,606.2L515.6,602.5 M526.2,616.6L529.8,617.8L532.5,617.4L534.4,620.9L537.9,619.9L542.5,619.3L543.4,619.3L546.5,617.8L547.9,618.2 M526.5,626.5L529.0,622.5L527.5,621.0L527.7,618.9L526.2,616.6 M529.0,622.5L534.4,620.9 M543.4,619.3L544.3,620.7L543.6,621.9L542.9,622.8 M498.7,552.2L500.3,549.5L501.9,546.4L500.8,540.4L500.4,534.3L504.2,529.4L504.8,518.8L508.7,511.4L512.1,505.8L516.3,502.6L517.5,502.5 M517.5,502.5L525.4,508.5L526.1,515.9L527.8,519.5 M517.5,502.5L519.6,501.0L529.6,505.5L529.3,498.2L533.5,496.2L536.6,501.4 M543.0,618.6L544.3,620.7 M571.8,638.8L573.7,637.4L574.4,636.0L578.5,635.4L584.6,634.4L589.0,633.8L596.0,633.8L594.5,630.1L592.9,626.3L595.0,625.2L591.1,620.3L588.8,619.0L585.3,619.1 M589.0,633.8L586.2,636.8L586.9,641.5L581.0,647.3L580.4,647.1L575.0,650.7L572.1,649.2L571.4,647.6L574.0,644.4L572.2,643.0 M570.1,648.1L571.4,647.6 M568.1,654.0L570.3,659.8 M571.6,649.4L571.6,653.3L570.6,659.7 M570.5,660.3L573.8,660.8L577.6,658.1L578.9,656.5L575.8,653.3L581.3,651.6L581.0,647.3 M580.4,647.1L585.3,651.8L590.3,654.4L598.2,660.4L603.4,660.7L606.1,661.0L606.9,662.6L608.9,662.4 M603.4,660.7L604.8,657.8L607.2,657.7L607.2,656.2 M596.0,633.8L598.1,637.9L600.4,640.9L598.8,644.6L601.1,647.9L606.4,652.2L606.2,654.5L607.2,656.2L609.1,657.8 M595.0,625.2L597.3,627.6L600.1,627.9L603.9,624.9L606.9,629.2 M591.1,620.3L595.0,619.9L595.4,619.0L599.1,620.1L598.8,617.4 M595.0,619.9L596.6,622.0L599.8,625.8L600.1,627.9 M621.3,632.7L626.9,629.9L630.5,630.1L636.4,631.7L642.1,634.7L642.4,639.2L641.5,642.7L643.2,652.1L646.2,653.7L644.1,657.5L650.4,666.1L652.0,668.0L647.6,672.6 M642.1,634.7L646.1,639.1L651.5,635.4L656.6,631.6L660.3,632.0L664.6,632.2L666.6,629.2L671.2,633.4L676.2,630.7L680.2,631.2 M644.1,657.5L648.8,658.9L659.4,657.2L664.0,650.6L667.1,650.2L668.5,645.3L671.0,642.9L671.7,638.3L671.4,634.4L680.2,631.2L683.4,633.6L689.4,637.0 M656.6,631.6L656.5,629.3L653.6,628.5L643.2,621.1L635.8,614.8L631.6,612.9L625.3,618.5 M616.6,615.9L615.1,617.2 M625.3,618.5L628.0,618.4L631.6,612.9 M660.3,632.0L661.4,628.4L658.7,623.4L660.8,621.1L666.1,620.7L665.9,618.0L668.6,616.0L672.9,618.2L669.7,620.8L675.2,623.1L675.7,622.7 M665.9,613.1L666.0,612.2L668.6,616.0 M675.7,622.7L675.2,623.1L670.3,624.0L666.5,623.1L663.2,623.4L666.1,620.7 M691.7,612.2L687.5,615.1L683.4,617.1L678.4,619.3L675.7,622.7L676.3,626.3L679.4,626.6L680.2,631.2 M689.4,637.0L692.8,641.1L694.4,647.3L694.0,650.8L696.8,652.8L701.4,655.0 M722.6,662.3L724.5,661.9L725.4,664.3L725.0,666.1L729.6,665.7L734.4,665.6L733.7,662.5L730.8,661.8L726.7,661.2L724.5,661.9 M733.7,662.5L738.9,658.1L744.4,656.6L748.7,660.4L749.0,661.6L753.0,662.5L753.3,668.7L751.3,673.7L755.5,677.3L757.4,681.2L759.9,682.8L762.6,682.6L764.7,683.9L763.9,679.8L766.1,678.8L773.9,676.6L778.2,678.2L778.2,680.9L780.7,682.1L782.4,682.4 M679.2,632.0L677.9,632.8 M667.0,677.1L672.0,675.5L674.8,674.8L673.2,670.6L671.2,667.7L671.8,663.1L678.6,659.6L682.3,653.2L682.2,649.8L684.0,648.3L679.8,645.4L678.8,640.5L686.5,636.6L689.4,637.0 M723.2,667.3L724.6,671.3L726.3,674.2L726.8,683.0 M724.6,671.3L728.5,670.9L728.3,668.5L723.2,667.3 M728.5,670.9L736.1,671.7L733.0,675.1L736.3,676.0L738.0,683.8L737.3,685.8 M738.0,683.8L739.4,678.3L742.5,670.2L743.4,665.8L748.1,662.3L749.0,661.6 M759.9,682.8L760.0,686.6L754.4,688.8L753.6,692.6L757.1,699.6L756.0,703.7L759.3,709.9L760.7,713.5L758.6,717.8L758.5,719.1 M760.0,686.6L761.2,687.0L761.6,689.3L763.5,689.3L763.5,694.4L766.5,693.4L769.9,692.7L774.2,695.6L774.7,699.1L777.3,701.6L777.6,704.7L776.5,705.7 M764.7,683.9L767.6,682.0L771.0,686.2L774.0,687.2L771.3,689.8L775.4,693.0L779.6,697.3L782.9,702.5L783.4,704.7 M776.5,705.7L778.8,705.5L783.4,704.7L783.3,711.9L778.9,714.1L780.1,716.5L775.0,717.6 M776.5,705.7L770.4,705.7L768.8,707.9L769.6,711.0L770.3,714.0 M762.9,729.8L765.9,732.1L768.7,730.3 M790.8,742.9L791.1,745.9L793.8,746.2L798.4,744.5L803.4,744.7L806.5,741.2L808.5,736.4L814.0,736.6 M882.3,756.4L881.6,776.2 M832.2,776.8L835.3,776.3L835.0,777.3 M816.9,613.0L820.6,608.5L822.2,604.8L826.3,606.2L825.9,603.6L829.3,601.3L832.0,601.3 M824.1,621.6L826.2,619.4L829.7,617.7 M706.1,582.8L707.3,585.3L717.0,591.7L718.9,598.6L731.9,601.3L736.2,607.5L748.8,606.9L760.9,610.1L767.3,606.4L775.0,604.3L778.4,599.9L776.7,594.4L786.7,591.8L796.7,585.5L788.6,582.0L783.0,581.2L782.9,576.3L783.6,572.3 M691.7,612.2L691.8,612.2 M619.2,676.5L617.4,675.1 M616.7,674.4L617.4,675.1L619.2,676.1L622.3,680.0L629.9,680.7L631.3,682.9L629.9,689.1L621.4,692.3L613.1,693.6L610.6,695.0L607.3,698.6L605.2,697.7L602.0,697.3L596.8,697.0L596.4,699.6L595.1,700.3 M621.4,692.3L625.0,699.4 M631.3,682.9L629.9,680.7 M631.8,676.5L631.0,673.8L632.3,671.5 M629.9,680.7L631.8,676.5 M289.3,604.7L288.5,602.7L287.7,601.1L288.7,595.8L285.2,594.1L282.5,596.9L281.0,600.0L277.5,602.5L277.1,603.2L268.3,602.8L263.3,605.6L261.5,607.7L256.3,607.4L255.0,608.6L255.2,610.4L251.2,611.9L244.6,614.2L242.9,613.0L245.0,610.8L245.6,609.3L246.9,607.0L247.2,600.4L244.9,598.0L244.9,597.0L242.8,595.3L242.1,593.6L233.9,587.2L231.2,588.2L227.3,587.1L224.2,586.2L220.3,585.0L217.6,583.9L217.4,581.3L216.4,582.8L203.2,581.6L189.6,580.3L176.0,579.0L162.4,577.6L148.8,576.1L141.3,575.3 M140.2,643.7L147.2,643.2L156.6,648.6L164.9,648.9L165.1,647.3L170.0,647.5L173.6,651.7L174.4,655.4L177.8,657.6L180.6,654.9L183.4,655.1L185.8,660.3L187.7,663.1L188.4,666.8L190.8,668.1L193.8,668.5 M130.1,544.9L133.8,539.3L131.1,534.4L130.9,527.5L129.8,522.0L129.2,518.3L125.7,517.0L121.7,519.5L120.9,513.5L116.4,510.1L150.0,451.1"/></g>
<path fill="none" stroke="#e4e4ee" stroke-width="1" stroke-linejoin="round" d="M603.9,600.8L601.8,599.3L597.1,594.9L595.4,593.0L596.3,589.9L595.6,587.1L599.3,587.0L600.2,584.1L604.6,579.8L609.4,580.0L615.1,581.7L618.9,583.1L623.1,581.3L626.0,580.9L629.7,582.1L633.9,581.4L629.0,577.2L631.3,575.3L629.9,572.5L630.4,568.6L634.9,567.4L639.8,565.7L647.6,562.4L654.0,560.5L655.8,565.3L662.7,566.0L665.7,567.1L670.2,564.0L675.0,567.6L683.3,577.6L691.2,576.3L699.4,581.7L704.7,583.0"/>
</g>
<g id="leaders">
<g fill="none" stroke="#484b52" stroke-width="1.15">
<path d="M658.4,52.2V540.7 M634.7,249.6V585.7 M173.5,256.2V614.7 M96.2,766.7H298.1 M705.8,663.2L652.8,716.2V914.1 M860,632.9L898.4,671.9V941.2"/>
<circle cx="658.4" cy="544" r="3.2"/>
<circle cx="634.7" cy="589" r="3.2"/>
<circle cx="173.5" cy="618" r="3.2"/>
<circle cx="301.4" cy="766.7" r="3.2"/>
<circle cx="708.1" cy="660.9" r="3.2"/>
<circle cx="857.7" cy="630.6" r="3.2"/>
</g>
<g fill="#e5545c">
<rect x="658.1" y="80.3" width="92.8" height="20.5"/>
<rect x="658.1" y="228.6" width="107.8" height="20.8"/>
<rect x="658.1" y="351.25" width="88.8" height="20.35"/>
<rect x="173.2" y="256.2" width="79.8" height="20.5"/>
<rect x="534" y="249.5" width="100.9" height="21.1"/>
<rect x="96.2" y="746.5" width="79.6" height="20.4"/>
<rect x="565.3" y="778.2" width="87.6" height="20.5"/>
<rect x="816.9" y="734.3" width="81.6" height="20.3"/>
</g>
<path d="M59,977.5H886.2" stroke="#7a7d80" stroke-width="1" fill="none"/>
</g>
<g id="labels">
<text x="56.56" y="67.8" font-size="28" font-weight="700" fill="#1f1f1f" stroke="#1f1f1f" stroke-width="0.2" letter-spacing="-0.489">2024 saw several passenger plane</text>
<text x="56.26" y="103.4" font-size="28" font-weight="700" fill="#1f1f1f" stroke="#1f1f1f" stroke-width="0.2" letter-spacing="-0.719">crashes worldwide</text>
<text x="57.46" y="146.9" font-size="19.5" font-weight="400" fill="#2a2a2a" stroke="#2a2a2a" stroke-width="0.3" letter-spacing="0.617">The crash of an Azerbaijan Airlines plane in Kazakhstan</text>
<text x="56.46" y="173.7" font-size="19.5" font-weight="400" fill="#2a2a2a" stroke="#2a2a2a" stroke-width="0.3" letter-spacing="0.715">has brought attention to passenger plane accidents</text>
<text x="58.05" y="200.2" font-size="19.5" font-weight="400" fill="#2a2a2a" stroke="#2a2a2a" stroke-width="0.3" letter-spacing="0.611">worldwide this year</text>
<text x="666.64" y="68" font-size="19.5" font-weight="700" fill="#1f1f1f" stroke="#1f1f1f" stroke-width="0.2" letter-spacing="0.049">Russia</text>
<text x="667.8" y="96.9" font-size="20.0" font-weight="700" fill="#ffffff" stroke="#ffffff" stroke-width="0.2" letter-spacing="0.267">Jan. 24</text>
<text x="667.64" y="127.4" font-size="19.3" font-weight="400" fill="#222" stroke="#222" stroke-width="0.3" letter-spacing="1.003">A Russian plane carrying</text>
<text x="666.64" y="151.5" font-size="19.3" font-weight="400" fill="#222" stroke="#222" stroke-width="0.3" letter-spacing="1.108">Ukrainian prisoners was</text>
<text x="666.64" y="175.5" font-size="19.3" font-weight="400" fill="#222" stroke="#222" stroke-width="0.3" letter-spacing="1.02">hit in Belgorod, killing 74</text>
<text x="666.64" y="199.6" font-size="19.3" font-weight="400" fill="#222" stroke="#222" stroke-width="0.3" letter-spacing="1.345">people</text>
<text x="666.7" y="245" font-size="20.0" font-weight="700" fill="#ffffff" stroke="#ffffff" stroke-width="0.2" letter-spacing="0.602">March 12</text>
<text x="666.52" y="275.7" font-size="19.3" font-weight="400" fill="#222" stroke="#222" stroke-width="0.3" letter-spacing="0.935">In Ivanovo, a military</text>
<text x="667.64" y="299.8" font-size="19.3" font-weight="400" fill="#222" stroke="#222" stroke-width="0.3" letter-spacing="1.101">transport plane crashed,</text>
<text x="666.64" y="323.7" font-size="19.3" font-weight="400" fill="#222" stroke="#222" stroke-width="0.3" letter-spacing="1.147">killing 15 people</text>
<text x="667.7" y="368.4" font-size="20.0" font-weight="700" fill="#ffffff" stroke="#ffffff" stroke-width="0.2" letter-spacing="0.217">July 12</text>
<text x="667.64" y="396" font-size="19.3" font-weight="400" fill="#222" stroke="#222" stroke-width="0.3" letter-spacing="1.063">A passenger plane</text>
<text x="667.45" y="419.9" font-size="19.3" font-weight="400" fill="#222" stroke="#222" stroke-width="0.3" letter-spacing="0.932">crashed, killing all 3</text>
<text x="667.5" y="443.9" font-size="19.3" font-weight="400" fill="#222" stroke="#222" stroke-width="0.3" letter-spacing="1.202">crew members on board</text>
<text x="180.6" y="273.4" font-size="20.0" font-weight="700" fill="#ffffff" stroke="#ffffff" stroke-width="0.2" letter-spacing="0.345">Jan. 5</text>
<text x="179.7" y="302.5" font-size="19.5" font-weight="700" fill="#1f1f1f" stroke="#1f1f1f" stroke-width="0.2" letter-spacing="0">US</text>
<text x="180.46" y="327.3" font-size="19.3" font-weight="400" fill="#222" stroke="#222" stroke-width="0.3" letter-spacing="1.132">An Alaska Airlines</text>
<text x="179.54" y="351.3" font-size="19.3" font-weight="400" fill="#222" stroke="#222" stroke-width="0.3" letter-spacing="1.195">passenger plane</text>
<text x="181.07" y="375.3" font-size="19.3" font-weight="400" fill="#222" stroke="#222" stroke-width="0.3" letter-spacing="1.215">was forced to make</text>
<text x="180.25" y="399.3" font-size="19.3" font-weight="400" fill="#222" stroke="#222" stroke-width="0.3" letter-spacing="1.117">an emergency</text>
<text x="179.46" y="423.5" font-size="19.3" font-weight="400" fill="#222" stroke="#222" stroke-width="0.3" letter-spacing="1.099">landing after a</text>
<text x="181.07" y="447.7" font-size="19.3" font-weight="400" fill="#222" stroke="#222" stroke-width="0.3" letter-spacing="1.255">window and part of</text>
<text x="180.46" y="471.9" font-size="19.3" font-weight="400" fill="#222" stroke="#222" stroke-width="0.3" letter-spacing="1.111">the fuselage broke</text>
<text x="180.26" y="496.1" font-size="19.3" font-weight="400" fill="#222" stroke="#222" stroke-width="0.3" letter-spacing="1.244">away mid-flight</text>
<text x="539.8" y="267.3" font-size="20.0" font-weight="700" fill="#ffffff" stroke="#ffffff" stroke-width="0.2" letter-spacing="0.462">Dec. 25</text>
<text x="513.97" y="295.8" font-size="19.5" font-weight="700" fill="#1f1f1f" stroke="#1f1f1f" stroke-width="0.2" letter-spacing="0.604">Kazakhstan</text>
<text x="464.28" y="320.3" font-size="19.3" font-weight="400" fill="#222" stroke="#222" stroke-width="0.3" letter-spacing="1.04">38 people died in</text>
<text x="497.62" y="344.3" font-size="19.3" font-weight="400" fill="#222" stroke="#222" stroke-width="0.3" letter-spacing="1.09">an Azerbaijan</text>
<text x="439.65" y="368.5" font-size="19.3" font-weight="400" fill="#222" stroke="#222" stroke-width="0.3" letter-spacing="1.047">Airlines plane crash</text>
<text x="101.2" y="763.4" font-size="20.0" font-weight="700" fill="#ffffff" stroke="#ffffff" stroke-width="0.2" letter-spacing="-0.058">Aug. 9</text>
<text x="100.64" y="793.8" font-size="19.5" font-weight="700" fill="#1f1f1f" stroke="#1f1f1f" stroke-width="0.2" letter-spacing="0.549">Brazil</text>
<text x="101.13" y="818.4" font-size="19.3" font-weight="400" fill="#222" stroke="#222" stroke-width="0.3" letter-spacing="1.037">62 people were</text>
<text x="100.76" y="842.4" font-size="19.3" font-weight="400" fill="#222" stroke="#222" stroke-width="0.3" letter-spacing="1.027">killed in the crash in</text>
<text x="101.76" y="866.6" font-size="19.3" font-weight="400" fill="#222" stroke="#222" stroke-width="0.3" letter-spacing="1.139">the city of Vinhedo</text>
<text x="570.8" y="795.4" font-size="20.0" font-weight="700" fill="#ffffff" stroke="#ffffff" stroke-width="0.2" letter-spacing="0.354">July 24.</text>
<text x="587.49" y="822.4" font-size="19.5" font-weight="700" fill="#1f1f1f" stroke="#1f1f1f" stroke-width="0.2" letter-spacing="0.772">Nepal</text>
<text x="463.11" y="846.6" font-size="19.3" font-weight="400" fill="#222" stroke="#222" stroke-width="0.3" letter-spacing="0.898">18 people died in a</text>
<text x="465.78" y="870.8" font-size="19.3" font-weight="400" fill="#222" stroke="#222" stroke-width="0.3" letter-spacing="1.13">plane crash during</text>
<text x="509.46" y="894.8" font-size="19.3" font-weight="400" fill="#222" stroke="#222" stroke-width="0.3" letter-spacing="1.318">takeoff on the</text>
<text x="574.57" y="919" font-size="19.3" font-weight="400" fill="#222" stroke="#222" stroke-width="0.3" letter-spacing="1.163">runway</text>
<text x="825.1" y="751.7" font-size="20.0" font-weight="700" fill="#ffffff" stroke="#ffffff" stroke-width="0.2" letter-spacing="0.445">Jan. 2</text>
<text x="833.06" y="774.4" font-size="19.5" font-weight="700" fill="#1f1f1f" stroke="#1f1f1f" stroke-width="0.2" letter-spacing="0.629">Japan</text>
<text x="698.47" y="798.5" font-size="19.3" font-weight="400" fill="#222" stroke="#222" stroke-width="0.3" letter-spacing="0.958">At Haneda Airport, a</text>
<text x="732.94" y="822.4" font-size="19.3" font-weight="400" fill="#222" stroke="#222" stroke-width="0.3" letter-spacing="1.145">passenger plane</text>
<text x="753.25" y="846.3" font-size="19.3" font-weight="400" fill="#222" stroke="#222" stroke-width="0.3" letter-spacing="1.158">collided with a</text>
<text x="703.25" y="870.3" font-size="19.3" font-weight="400" fill="#222" stroke="#222" stroke-width="0.3" letter-spacing="1.184">coast guard aircraft</text>
<text x="753.74" y="894.4" font-size="19.3" font-weight="400" fill="#222" stroke="#222" stroke-width="0.3" letter-spacing="1.032">on the runway,</text>
<text x="746.46" y="918.6" font-size="19.3" font-weight="400" fill="#222" stroke="#222" stroke-width="0.3" letter-spacing="1.163">killing 5 people</text>
<text x="56" y="996.3" font-size="14.6" font-weight="400" fill="#333" stroke="#333" stroke-width="0.3" letter-spacing="0.259">December 26, 2024</text>
</g>
<g fill="#0d34a0" role="img" aria-label="AA">
<path d="M900.34,982.5A17.6,17.6 0 1 1 931.16,982.5L929.15,977.69A13.9,13.9 0 1 0 902.35,977.69Z"/>
<path d="M898.1,991.9L908.4,967.2H915.1V991.9H910.9V984.9H905.6L902.7,991.9ZM907,981.5H910.9V972.2Z"/>
<path d="M933.1,991.9L922.8,967.2H916.6V991.9H920.6V984.9H925.6L928.5,991.9ZM924.2,981.5H920.6V972.2Z"/>
</g>
</svg>
</body>
</html>
